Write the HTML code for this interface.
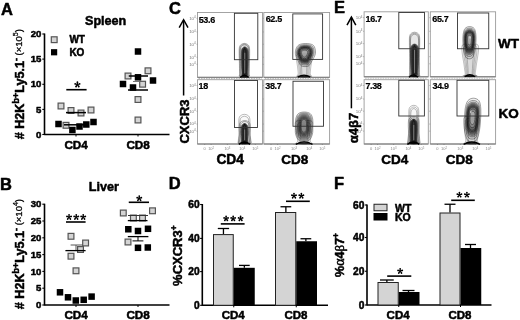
<!DOCTYPE html>
<html><head><meta charset="utf-8"><style>
html,body{margin:0;padding:0;background:#fff;width:520px;height:320px;overflow:hidden}
svg{display:block;font-family:"Liberation Sans", sans-serif;will-change:transform}
text[font-weight="bold"]{stroke:#000;stroke-width:0.5px;stroke-linejoin:round}
</style></head><body>
<svg width="520" height="320" viewBox="0 0 520 320" font-family='"Liberation Sans", sans-serif'>
<rect width="520" height="320" fill="#fff"/>
<text x="1.0" y="14.7" font-size="16.5" font-weight="bold" text-anchor="start" fill="#000" >A</text>
<text x="0.0" y="189.5" font-size="16.5" font-weight="bold" text-anchor="start" fill="#000" >B</text>
<text x="169.0" y="13.5" font-size="16.5" font-weight="bold" text-anchor="start" fill="#000" >C</text>
<text x="168.7" y="189.0" font-size="16.5" font-weight="bold" text-anchor="start" fill="#000" >D</text>
<text x="334.0" y="13.4" font-size="16.5" font-weight="bold" text-anchor="start" fill="#000" >E</text>
<text x="334.0" y="189.0" font-size="16.5" font-weight="bold" text-anchor="start" fill="#000" >F</text>
<line x1="44.5" y1="33.5" x2="44.5" y2="135.1" stroke="#000" stroke-width="1.6" />
<line x1="42.3" y1="34" x2="44.5" y2="34" stroke="#000" stroke-width="1.1" />
<text x="41.3" y="37.1" font-size="9.6" font-weight="bold" text-anchor="end" fill="#000" >20</text>
<line x1="42.3" y1="59.1" x2="44.5" y2="59.1" stroke="#000" stroke-width="1.1" />
<text x="41.3" y="62.2" font-size="9.6" font-weight="bold" text-anchor="end" fill="#000" >15</text>
<line x1="42.3" y1="84.3" x2="44.5" y2="84.3" stroke="#000" stroke-width="1.1" />
<text x="41.3" y="87.39999999999999" font-size="9.6" font-weight="bold" text-anchor="end" fill="#000" >10</text>
<line x1="42.3" y1="109.4" x2="44.5" y2="109.4" stroke="#000" stroke-width="1.1" />
<text x="41.3" y="112.5" font-size="9.6" font-weight="bold" text-anchor="end" fill="#000" >5</text>
<line x1="42.3" y1="134.5" x2="44.5" y2="134.5" stroke="#000" stroke-width="1.1" />
<text x="41.3" y="137.6" font-size="9.6" font-weight="bold" text-anchor="end" fill="#000" >0</text>
<line x1="44.5" y1="134.5" x2="169.5" y2="134.5" stroke="#000" stroke-width="1.6" />
<line x1="76" y1="134.5" x2="76" y2="136.5" stroke="#000" stroke-width="1" />
<line x1="138" y1="134.5" x2="138" y2="136.5" stroke="#000" stroke-width="1" />
<text x="76.1" y="149" font-size="11.7" font-weight="bold" text-anchor="middle" fill="#000" >CD4</text>
<text x="138.1" y="149" font-size="11.7" font-weight="bold" text-anchor="middle" fill="#000" >CD8</text>
<text x="85.0" y="25.0" font-size="12.6" font-weight="bold" text-anchor="start" fill="#000" >Spleen</text>
<line x1="44.5" y1="203.7" x2="44.5" y2="305.6" stroke="#000" stroke-width="1.6" />
<line x1="42.3" y1="204.2" x2="44.5" y2="204.2" stroke="#000" stroke-width="1.1" />
<text x="41.3" y="207.29999999999998" font-size="9.6" font-weight="bold" text-anchor="end" fill="#000" >30</text>
<line x1="42.3" y1="221" x2="44.5" y2="221" stroke="#000" stroke-width="1.1" />
<text x="41.3" y="224.1" font-size="9.6" font-weight="bold" text-anchor="end" fill="#000" >25</text>
<line x1="42.3" y1="237.8" x2="44.5" y2="237.8" stroke="#000" stroke-width="1.1" />
<text x="41.3" y="240.9" font-size="9.6" font-weight="bold" text-anchor="end" fill="#000" >20</text>
<line x1="42.3" y1="254.6" x2="44.5" y2="254.6" stroke="#000" stroke-width="1.1" />
<text x="41.3" y="257.7" font-size="9.6" font-weight="bold" text-anchor="end" fill="#000" >15</text>
<line x1="42.3" y1="271.4" x2="44.5" y2="271.4" stroke="#000" stroke-width="1.1" />
<text x="41.3" y="274.5" font-size="9.6" font-weight="bold" text-anchor="end" fill="#000" >10</text>
<line x1="42.3" y1="288.2" x2="44.5" y2="288.2" stroke="#000" stroke-width="1.1" />
<text x="41.3" y="291.3" font-size="9.6" font-weight="bold" text-anchor="end" fill="#000" >5</text>
<line x1="42.3" y1="305" x2="44.5" y2="305" stroke="#000" stroke-width="1.1" />
<text x="41.3" y="308.1" font-size="9.6" font-weight="bold" text-anchor="end" fill="#000" >0</text>
<line x1="44.5" y1="305" x2="169.5" y2="305" stroke="#000" stroke-width="1.6" />
<line x1="76" y1="305" x2="76" y2="307" stroke="#000" stroke-width="1" />
<line x1="138" y1="305" x2="138" y2="307" stroke="#000" stroke-width="1" />
<text x="76.1" y="319.3" font-size="11.7" font-weight="bold" text-anchor="middle" fill="#000" >CD4</text>
<text x="138.1" y="319.3" font-size="11.7" font-weight="bold" text-anchor="middle" fill="#000" >CD8</text>
<text x="88.8" y="190.7" font-size="12.6" font-weight="bold" text-anchor="start" fill="#000" >Liver</text>
<text transform="translate(23.8,84.2) rotate(-90)" x="0" y="0" font-size="12.6" font-weight="bold" text-anchor="middle"><tspan># H2K</tspan><tspan font-size="9" dy="-4.5">b+</tspan><tspan dy="4.5">Ly5.1</tspan><tspan font-size="9" dy="-4.5">-</tspan><tspan dy="2.5" font-weight="normal" font-size="9.5" stroke="#000" stroke-width="0.3"> (×10</tspan><tspan font-weight="normal" font-size="7" dy="-3.5" stroke="#000" stroke-width="0.25">5</tspan><tspan font-weight="normal" font-size="9.5" dy="3.5" stroke="#000" stroke-width="0.3">)</tspan></text>
<text transform="translate(23.8,254.1) rotate(-90)" x="0" y="0" font-size="12.6" font-weight="bold" text-anchor="middle"><tspan># H2K</tspan><tspan font-size="9" dy="-4.5">b+</tspan><tspan dy="4.5">Ly5.1</tspan><tspan font-size="9" dy="-4.5">-</tspan><tspan dy="2.5" font-weight="normal" font-size="9.5" stroke="#000" stroke-width="0.3"> (×10</tspan><tspan font-weight="normal" font-size="7" dy="-3.5" stroke="#000" stroke-width="0.25">4</tspan><tspan font-weight="normal" font-size="9.5" dy="3.5" stroke="#000" stroke-width="0.3">)</tspan></text>
<rect x="51.300000000000004" y="36.800000000000004" width="5.8" height="5.8" fill="#d4d4d4" stroke="#555" stroke-width="1.2" />
<rect x="51.0" y="49.15" width="6.2" height="6.2" fill="#000" stroke="none" stroke-width="1" />
<text x="69.4" y="43.2" font-size="10" font-weight="bold" text-anchor="start" fill="#000" >WT</text>
<text x="69.4" y="55.5" font-size="10" font-weight="bold" text-anchor="start" fill="#000" >KO</text>
<rect x="58.1" y="103.1" width="5.8" height="5.8" fill="#d4d4d4" stroke="#555" stroke-width="1.2" />
<rect x="68.1" y="107.6" width="5.8" height="5.8" fill="#d4d4d4" stroke="#555" stroke-width="1.2" />
<rect x="78.1" y="110.1" width="5.8" height="5.8" fill="#d4d4d4" stroke="#555" stroke-width="1.2" />
<rect x="88.1" y="107.1" width="5.8" height="5.8" fill="#d4d4d4" stroke="#555" stroke-width="1.2" />
<rect x="63.1" y="122.39999999999999" width="5.8" height="5.8" fill="#d4d4d4" stroke="#555" stroke-width="1.2" />
<line x1="66" y1="112.6" x2="86" y2="112.6" stroke="#000" stroke-width="1.5" />
<rect x="55.25" y="120.75" width="6.5" height="6.5" fill="#000" stroke="none" stroke-width="1" />
<rect x="69.15" y="126.75" width="6.5" height="6.5" fill="#000" stroke="none" stroke-width="1" />
<rect x="76.25" y="123.25" width="6.5" height="6.5" fill="#000" stroke="none" stroke-width="1" />
<rect x="83.05" y="121.25" width="6.5" height="6.5" fill="#000" stroke="none" stroke-width="1" />
<rect x="90.25" y="118.75" width="6.5" height="6.5" fill="#000" stroke="none" stroke-width="1" />
<line x1="64" y1="124.8" x2="84" y2="124.8" stroke="#000" stroke-width="1.5" />
<path d="M77.74,84.40L78.34,82.15A0.94,0.94 0 0 0 76.47,82.15L77.06,84.40ZM77.70,84.86L80.01,84.73A0.94,0.94 0 0 0 79.44,82.96L77.49,84.21ZM77.24,84.96L78.08,87.13A0.94,0.94 0 0 0 79.59,86.03L77.79,84.56ZM77.01,84.56L75.21,86.03A0.94,0.94 0 0 0 76.72,87.13L77.56,84.96ZM77.31,84.21L75.36,82.96A0.94,0.94 0 0 0 74.79,84.73L77.10,84.86Z" fill="#000"/>
<circle cx="77.40" cy="84.60" r="0.77" fill="#000"/>
<line x1="66.3" y1="89.7" x2="86.6" y2="89.7" stroke="#000" stroke-width="1.6" />
<rect x="145.1" y="67.89999999999999" width="5.8" height="5.8" fill="#d4d4d4" stroke="#555" stroke-width="1.2" />
<rect x="125.1" y="73.1" width="5.8" height="5.8" fill="#d4d4d4" stroke="#555" stroke-width="1.2" />
<rect x="139.7" y="81.3" width="5.8" height="5.8" fill="#d4d4d4" stroke="#555" stroke-width="1.2" />
<rect x="135.1" y="96.6" width="5.8" height="5.8" fill="#d4d4d4" stroke="#555" stroke-width="1.2" />
<rect x="135.1" y="117.1" width="5.8" height="5.8" fill="#d4d4d4" stroke="#555" stroke-width="1.2" />
<line x1="133" y1="81.5" x2="139.4" y2="81.5" stroke="#777" stroke-width="1" />
<rect x="134.75" y="48.25" width="6.5" height="6.5" fill="#000" stroke="none" stroke-width="1" />
<rect x="134.75" y="74.05" width="6.5" height="6.5" fill="#000" stroke="none" stroke-width="1" />
<rect x="149.75" y="77.25" width="6.5" height="6.5" fill="#000" stroke="none" stroke-width="1" />
<rect x="119.75" y="80.75" width="6.5" height="6.5" fill="#000" stroke="none" stroke-width="1" />
<rect x="129.75" y="84.25" width="6.5" height="6.5" fill="#000" stroke="none" stroke-width="1" />
<line x1="128.75" y1="76" x2="148" y2="76" stroke="#000" stroke-width="1.5" />
<line x1="128" y1="90" x2="148" y2="90" stroke="#000" stroke-width="1.5" />
<line x1="76" y1="245" x2="76" y2="250.6" stroke="#555" stroke-width="1" />
<line x1="70.6" y1="245" x2="82.8" y2="245" stroke="#555" stroke-width="1" />
<rect x="68.1" y="233.4" width="5.8" height="5.8" fill="#d4d4d4" stroke="#555" stroke-width="1.2" />
<rect x="82.69999999999999" y="240.1" width="5.8" height="5.8" fill="#d4d4d4" stroke="#555" stroke-width="1.2" />
<rect x="77.6" y="246.6" width="5.8" height="5.8" fill="#d4d4d4" stroke="#555" stroke-width="1.2" />
<rect x="68.1" y="253.29999999999998" width="5.8" height="5.8" fill="#d4d4d4" stroke="#555" stroke-width="1.2" />
<rect x="73.1" y="267.90000000000003" width="5.8" height="5.8" fill="#d4d4d4" stroke="#555" stroke-width="1.2" />
<line x1="65.4" y1="250.6" x2="85.6" y2="250.6" stroke="#000" stroke-width="1.3" />
<rect x="56.75" y="289.05" width="6.5" height="6.5" fill="#000" stroke="none" stroke-width="1" />
<rect x="64.75" y="294.05" width="6.5" height="6.5" fill="#000" stroke="none" stroke-width="1" />
<rect x="72.55" y="297.25" width="6.5" height="6.5" fill="#000" stroke="none" stroke-width="1" />
<rect x="80.45" y="296.55" width="6.5" height="6.5" fill="#000" stroke="none" stroke-width="1" />
<rect x="88.35" y="293.35" width="6.5" height="6.5" fill="#000" stroke="none" stroke-width="1" />
<path d="M69.37,216.90L69.93,214.82A0.88,0.88 0 0 0 68.17,214.82L68.73,216.90ZM69.34,217.34L71.49,217.23A0.88,0.88 0 0 0 70.95,215.56L69.14,216.73ZM68.91,217.45L69.68,219.47A0.88,0.88 0 0 0 71.10,218.43L69.43,217.07ZM68.67,217.07L67.00,218.43A0.88,0.88 0 0 0 68.42,219.47L69.19,217.45ZM68.96,216.73L67.15,215.56A0.88,0.88 0 0 0 66.61,217.23L68.76,217.34Z" fill="#000"/>
<circle cx="69.05" cy="217.10" r="0.72" fill="#000"/>
<path d="M76.57,216.90L77.13,214.82A0.88,0.88 0 0 0 75.37,214.82L75.93,216.90ZM76.54,217.34L78.69,217.23A0.88,0.88 0 0 0 78.15,215.56L76.34,216.73ZM76.11,217.45L76.88,219.47A0.88,0.88 0 0 0 78.30,218.43L76.63,217.07ZM75.87,217.07L74.20,218.43A0.88,0.88 0 0 0 75.62,219.47L76.39,217.45ZM76.16,216.73L74.35,215.56A0.88,0.88 0 0 0 73.81,217.23L75.96,217.34Z" fill="#000"/>
<circle cx="76.25" cy="217.10" r="0.72" fill="#000"/>
<path d="M83.52,216.90L84.08,214.82A0.88,0.88 0 0 0 82.32,214.82L82.88,216.90ZM83.49,217.34L85.64,217.23A0.88,0.88 0 0 0 85.10,215.56L83.29,216.73ZM83.06,217.45L83.83,219.47A0.88,0.88 0 0 0 85.25,218.43L83.58,217.07ZM82.82,217.07L81.15,218.43A0.88,0.88 0 0 0 82.57,219.47L83.34,217.45ZM83.11,216.73L81.30,215.56A0.88,0.88 0 0 0 80.76,217.23L82.91,217.34Z" fill="#000"/>
<circle cx="83.20" cy="217.10" r="0.72" fill="#000"/>
<line x1="66" y1="222" x2="85.6" y2="222" stroke="#000" stroke-width="1.6" />
<rect x="120.39999999999999" y="210.1" width="5.8" height="5.8" fill="#d4d4d4" stroke="#555" stroke-width="1.2" />
<rect x="149.6" y="207.9" width="5.8" height="5.8" fill="#d4d4d4" stroke="#555" stroke-width="1.2" />
<rect x="130.5" y="215.1" width="5.8" height="5.8" fill="#d4d4d4" stroke="#555" stroke-width="1.2" />
<rect x="139.6" y="215.1" width="5.8" height="5.8" fill="#d4d4d4" stroke="#555" stroke-width="1.2" />
<rect x="125.1" y="239.1" width="5.8" height="5.8" fill="#d4d4d4" stroke="#555" stroke-width="1.2" />
<line x1="128" y1="215.5" x2="148" y2="215.5" stroke="#333" stroke-width="1" />
<line x1="127.8" y1="220.6" x2="147.5" y2="220.6" stroke="#000" stroke-width="1.3" />
<line x1="138" y1="236.6" x2="138" y2="240.9" stroke="#000" stroke-width="1" />
<line x1="132.5" y1="240.9" x2="143.4" y2="240.9" stroke="#000" stroke-width="1" />
<rect x="125.05000000000001" y="226.0" width="6.5" height="6.5" fill="#000" stroke="none" stroke-width="1" />
<rect x="134.75" y="227.75" width="6.5" height="6.5" fill="#000" stroke="none" stroke-width="1" />
<rect x="144.75" y="225.55" width="6.5" height="6.5" fill="#000" stroke="none" stroke-width="1" />
<rect x="134.75" y="244.55" width="6.5" height="6.5" fill="#000" stroke="none" stroke-width="1" />
<rect x="144.55" y="244.25" width="6.5" height="6.5" fill="#000" stroke="none" stroke-width="1" />
<line x1="127.8" y1="236.6" x2="148.4" y2="236.6" stroke="#000" stroke-width="1.3" />
<path d="M139.57,198.20L140.13,196.12A0.88,0.88 0 0 0 138.37,196.12L138.93,198.20ZM139.54,198.64L141.69,198.53A0.88,0.88 0 0 0 141.15,196.86L139.34,198.03ZM139.11,198.75L139.88,200.77A0.88,0.88 0 0 0 141.30,199.73L139.63,198.37ZM138.87,198.37L137.20,199.73A0.88,0.88 0 0 0 138.62,200.77L139.39,198.75ZM139.16,198.03L137.35,196.86A0.88,0.88 0 0 0 136.81,198.53L138.96,198.64Z" fill="#000"/>
<circle cx="139.25" cy="198.40" r="0.72" fill="#000"/>
<line x1="128.75" y1="202.3" x2="149" y2="202.3" stroke="#000" stroke-width="1.6" />
<rect x="197.5" y="12.5" width="65.0" height="64.8" fill="none" stroke="#9a9a9a" stroke-width="0.9" />
<line x1="197.5" y1="77.3" x2="262.5" y2="77.3" stroke="#777" stroke-width="1.0" />
<text x="195.7" y="19.732" font-size="4.4" fill="#777" text-anchor="end">10<tspan dy="-1.3" font-size="3">4</tspan></text>
<line x1="196.5" y1="18.332" x2="197.5" y2="18.332" stroke="#888" stroke-width="0.6" />
<text x="195.7" y="33.339999999999996" font-size="4.4" fill="#777" text-anchor="end">10<tspan dy="-1.3" font-size="3">4</tspan></text>
<line x1="196.5" y1="31.939999999999998" x2="197.5" y2="31.939999999999998" stroke="#888" stroke-width="0.6" />
<text x="195.7" y="45.651999999999994" font-size="4.4" fill="#777" text-anchor="end">10<tspan dy="-1.3" font-size="3">4</tspan></text>
<line x1="196.5" y1="44.251999999999995" x2="197.5" y2="44.251999999999995" stroke="#888" stroke-width="0.6" />
<text x="195.7" y="58.611999999999995" font-size="4.4" fill="#777" text-anchor="end">10<tspan dy="-1.3" font-size="3">4</tspan></text>
<line x1="196.5" y1="57.211999999999996" x2="197.5" y2="57.211999999999996" stroke="#888" stroke-width="0.6" />
<text x="195.7" y="65.74000000000001" font-size="4.4" fill="#777" text-anchor="end">10<tspan dy="-1.3" font-size="3">4</tspan></text>
<line x1="196.5" y1="64.34" x2="197.5" y2="64.34" stroke="#888" stroke-width="0.6" />
<rect x="263.8" y="12.5" width="65.80000000000001" height="64.8" fill="none" stroke="#9a9a9a" stroke-width="0.9" />
<line x1="263.8" y1="77.3" x2="329.6" y2="77.3" stroke="#777" stroke-width="1.0" />
<line x1="262.8" y1="18.332" x2="263.8" y2="18.332" stroke="#888" stroke-width="0.6" />
<line x1="262.8" y1="31.939999999999998" x2="263.8" y2="31.939999999999998" stroke="#888" stroke-width="0.6" />
<line x1="262.8" y1="44.251999999999995" x2="263.8" y2="44.251999999999995" stroke="#888" stroke-width="0.6" />
<line x1="262.8" y1="57.211999999999996" x2="263.8" y2="57.211999999999996" stroke="#888" stroke-width="0.6" />
<line x1="262.8" y1="64.34" x2="263.8" y2="64.34" stroke="#888" stroke-width="0.6" />
<rect x="197.5" y="79.7" width="65.0" height="64.3" fill="none" stroke="#9a9a9a" stroke-width="0.9" />
<line x1="197.5" y1="144" x2="262.5" y2="144" stroke="#777" stroke-width="1.0" />
<text x="195.7" y="86.88700000000001" font-size="4.4" fill="#777" text-anchor="end">10<tspan dy="-1.3" font-size="3">4</tspan></text>
<line x1="196.5" y1="85.48700000000001" x2="197.5" y2="85.48700000000001" stroke="#888" stroke-width="0.6" />
<text x="195.7" y="100.39000000000001" font-size="4.4" fill="#777" text-anchor="end">10<tspan dy="-1.3" font-size="3">4</tspan></text>
<line x1="196.5" y1="98.99000000000001" x2="197.5" y2="98.99000000000001" stroke="#888" stroke-width="0.6" />
<text x="195.7" y="112.607" font-size="4.4" fill="#777" text-anchor="end">10<tspan dy="-1.3" font-size="3">4</tspan></text>
<line x1="196.5" y1="111.207" x2="197.5" y2="111.207" stroke="#888" stroke-width="0.6" />
<text x="195.7" y="125.46700000000001" font-size="4.4" fill="#777" text-anchor="end">10<tspan dy="-1.3" font-size="3">4</tspan></text>
<line x1="196.5" y1="124.06700000000001" x2="197.5" y2="124.06700000000001" stroke="#888" stroke-width="0.6" />
<text x="195.7" y="132.54" font-size="4.4" fill="#777" text-anchor="end">10<tspan dy="-1.3" font-size="3">4</tspan></text>
<line x1="196.5" y1="131.14" x2="197.5" y2="131.14" stroke="#888" stroke-width="0.6" />
<rect x="263.8" y="79.7" width="65.80000000000001" height="64.3" fill="none" stroke="#9a9a9a" stroke-width="0.9" />
<line x1="263.8" y1="144" x2="329.6" y2="144" stroke="#777" stroke-width="1.0" />
<line x1="262.8" y1="85.48700000000001" x2="263.8" y2="85.48700000000001" stroke="#888" stroke-width="0.6" />
<line x1="262.8" y1="98.99000000000001" x2="263.8" y2="98.99000000000001" stroke="#888" stroke-width="0.6" />
<line x1="262.8" y1="111.207" x2="263.8" y2="111.207" stroke="#888" stroke-width="0.6" />
<line x1="262.8" y1="124.06700000000001" x2="263.8" y2="124.06700000000001" stroke="#888" stroke-width="0.6" />
<line x1="262.8" y1="131.14" x2="263.8" y2="131.14" stroke="#888" stroke-width="0.6" />
<rect x="364.1" y="11.8" width="64.19999999999999" height="65.0" fill="none" stroke="#9a9a9a" stroke-width="0.9" />
<line x1="364.1" y1="76.8" x2="428.3" y2="76.8" stroke="#777" stroke-width="1.0" />
<text x="362.3" y="19.049999999999997" font-size="4.4" fill="#777" text-anchor="end">10<tspan dy="-1.3" font-size="3">4</tspan></text>
<line x1="363.1" y1="17.65" x2="364.1" y2="17.65" stroke="#888" stroke-width="0.6" />
<text x="362.3" y="32.7" font-size="4.4" fill="#777" text-anchor="end">10<tspan dy="-1.3" font-size="3">4</tspan></text>
<line x1="363.1" y1="31.3" x2="364.1" y2="31.3" stroke="#888" stroke-width="0.6" />
<text x="362.3" y="45.05" font-size="4.4" fill="#777" text-anchor="end">10<tspan dy="-1.3" font-size="3">4</tspan></text>
<line x1="363.1" y1="43.65" x2="364.1" y2="43.65" stroke="#888" stroke-width="0.6" />
<text x="362.3" y="58.04999999999999" font-size="4.4" fill="#777" text-anchor="end">10<tspan dy="-1.3" font-size="3">4</tspan></text>
<line x1="363.1" y1="56.64999999999999" x2="364.1" y2="56.64999999999999" stroke="#888" stroke-width="0.6" />
<text x="362.3" y="65.2" font-size="4.4" fill="#777" text-anchor="end">10<tspan dy="-1.3" font-size="3">4</tspan></text>
<line x1="363.1" y1="63.8" x2="364.1" y2="63.8" stroke="#888" stroke-width="0.6" />
<rect x="430.3" y="11.8" width="65.30000000000001" height="65.0" fill="none" stroke="#9a9a9a" stroke-width="0.9" />
<line x1="430.3" y1="76.8" x2="495.6" y2="76.8" stroke="#777" stroke-width="1.0" />
<line x1="429.3" y1="17.65" x2="430.3" y2="17.65" stroke="#888" stroke-width="0.6" />
<line x1="429.3" y1="31.3" x2="430.3" y2="31.3" stroke="#888" stroke-width="0.6" />
<line x1="429.3" y1="43.65" x2="430.3" y2="43.65" stroke="#888" stroke-width="0.6" />
<line x1="429.3" y1="56.64999999999999" x2="430.3" y2="56.64999999999999" stroke="#888" stroke-width="0.6" />
<line x1="429.3" y1="63.8" x2="430.3" y2="63.8" stroke="#888" stroke-width="0.6" />
<rect x="364.1" y="79.7" width="64.19999999999999" height="64.3" fill="none" stroke="#9a9a9a" stroke-width="0.9" />
<line x1="364.1" y1="144" x2="428.3" y2="144" stroke="#777" stroke-width="1.0" />
<text x="362.3" y="86.88700000000001" font-size="4.4" fill="#777" text-anchor="end">10<tspan dy="-1.3" font-size="3">4</tspan></text>
<line x1="363.1" y1="85.48700000000001" x2="364.1" y2="85.48700000000001" stroke="#888" stroke-width="0.6" />
<text x="362.3" y="100.39000000000001" font-size="4.4" fill="#777" text-anchor="end">10<tspan dy="-1.3" font-size="3">4</tspan></text>
<line x1="363.1" y1="98.99000000000001" x2="364.1" y2="98.99000000000001" stroke="#888" stroke-width="0.6" />
<text x="362.3" y="112.607" font-size="4.4" fill="#777" text-anchor="end">10<tspan dy="-1.3" font-size="3">4</tspan></text>
<line x1="363.1" y1="111.207" x2="364.1" y2="111.207" stroke="#888" stroke-width="0.6" />
<text x="362.3" y="125.46700000000001" font-size="4.4" fill="#777" text-anchor="end">10<tspan dy="-1.3" font-size="3">4</tspan></text>
<line x1="363.1" y1="124.06700000000001" x2="364.1" y2="124.06700000000001" stroke="#888" stroke-width="0.6" />
<text x="362.3" y="132.54" font-size="4.4" fill="#777" text-anchor="end">10<tspan dy="-1.3" font-size="3">4</tspan></text>
<line x1="363.1" y1="131.14" x2="364.1" y2="131.14" stroke="#888" stroke-width="0.6" />
<rect x="430.3" y="79.7" width="65.30000000000001" height="64.3" fill="none" stroke="#9a9a9a" stroke-width="0.9" />
<line x1="430.3" y1="144" x2="495.6" y2="144" stroke="#777" stroke-width="1.0" />
<line x1="429.3" y1="85.48700000000001" x2="430.3" y2="85.48700000000001" stroke="#888" stroke-width="0.6" />
<line x1="429.3" y1="98.99000000000001" x2="430.3" y2="98.99000000000001" stroke="#888" stroke-width="0.6" />
<line x1="429.3" y1="111.207" x2="430.3" y2="111.207" stroke="#888" stroke-width="0.6" />
<line x1="429.3" y1="124.06700000000001" x2="430.3" y2="124.06700000000001" stroke="#888" stroke-width="0.6" />
<line x1="429.3" y1="131.14" x2="430.3" y2="131.14" stroke="#888" stroke-width="0.6" />
<line x1="198.5" y1="78.6" x2="261.5" y2="78.6" stroke="#b0b0b0" stroke-width="0.9" stroke-dasharray="1.6,0.9"/>
<line x1="264.8" y1="78.6" x2="328.6" y2="78.6" stroke="#b0b0b0" stroke-width="0.9" stroke-dasharray="1.6,0.9"/>
<line x1="365.1" y1="78.1" x2="427.3" y2="78.1" stroke="#b0b0b0" stroke-width="0.9" stroke-dasharray="1.6,0.9"/>
<line x1="431.3" y1="78.1" x2="494.6" y2="78.1" stroke="#b0b0b0" stroke-width="0.9" stroke-dasharray="1.6,0.9"/>
<text x="204.65" y="150.2" font-size="4" fill="#8a8a8a" text-anchor="middle">0</text>
<line x1="204.65" y1="144" x2="204.65" y2="145" stroke="#777" stroke-width="0.7" />
<text x="211.15" y="150.2" font-size="4" fill="#8a8a8a" text-anchor="middle">10<tspan dy="-1.3" font-size="2.8">2</tspan></text>
<line x1="211.15" y1="144" x2="211.15" y2="145" stroke="#777" stroke-width="0.7" />
<text x="227.4" y="150.2" font-size="4" fill="#8a8a8a" text-anchor="middle">10<tspan dy="-1.3" font-size="2.8">3</tspan></text>
<line x1="227.4" y1="144" x2="227.4" y2="145" stroke="#777" stroke-width="0.7" />
<text x="242.35" y="150.2" font-size="4" fill="#8a8a8a" text-anchor="middle">10<tspan dy="-1.3" font-size="2.8">4</tspan></text>
<line x1="242.35" y1="144" x2="242.35" y2="145" stroke="#777" stroke-width="0.7" />
<text x="255.35" y="150.2" font-size="4" fill="#8a8a8a" text-anchor="middle">10<tspan dy="-1.3" font-size="2.8">5</tspan></text>
<line x1="255.35" y1="144" x2="255.35" y2="145" stroke="#777" stroke-width="0.7" />
<text x="271.038" y="150.2" font-size="4" fill="#8a8a8a" text-anchor="middle">0</text>
<line x1="271.038" y1="144" x2="271.038" y2="145" stroke="#777" stroke-width="0.7" />
<text x="277.618" y="150.2" font-size="4" fill="#8a8a8a" text-anchor="middle">10<tspan dy="-1.3" font-size="2.8">2</tspan></text>
<line x1="277.618" y1="144" x2="277.618" y2="145" stroke="#777" stroke-width="0.7" />
<text x="294.06800000000004" y="150.2" font-size="4" fill="#8a8a8a" text-anchor="middle">10<tspan dy="-1.3" font-size="2.8">3</tspan></text>
<line x1="294.06800000000004" y1="144" x2="294.06800000000004" y2="145" stroke="#777" stroke-width="0.7" />
<text x="309.202" y="150.2" font-size="4" fill="#8a8a8a" text-anchor="middle">10<tspan dy="-1.3" font-size="2.8">4</tspan></text>
<line x1="309.202" y1="144" x2="309.202" y2="145" stroke="#777" stroke-width="0.7" />
<text x="322.362" y="150.2" font-size="4" fill="#8a8a8a" text-anchor="middle">10<tspan dy="-1.3" font-size="2.8">5</tspan></text>
<line x1="322.362" y1="144" x2="322.362" y2="145" stroke="#777" stroke-width="0.7" />
<text x="371.16200000000003" y="150.2" font-size="4" fill="#8a8a8a" text-anchor="middle">0</text>
<line x1="371.16200000000003" y1="144" x2="371.16200000000003" y2="145" stroke="#777" stroke-width="0.7" />
<text x="377.582" y="150.2" font-size="4" fill="#8a8a8a" text-anchor="middle">10<tspan dy="-1.3" font-size="2.8">2</tspan></text>
<line x1="377.582" y1="144" x2="377.582" y2="145" stroke="#777" stroke-width="0.7" />
<text x="393.632" y="150.2" font-size="4" fill="#8a8a8a" text-anchor="middle">10<tspan dy="-1.3" font-size="2.8">3</tspan></text>
<line x1="393.632" y1="144" x2="393.632" y2="145" stroke="#777" stroke-width="0.7" />
<text x="408.398" y="150.2" font-size="4" fill="#8a8a8a" text-anchor="middle">10<tspan dy="-1.3" font-size="2.8">4</tspan></text>
<line x1="408.398" y1="144" x2="408.398" y2="145" stroke="#777" stroke-width="0.7" />
<text x="421.238" y="150.2" font-size="4" fill="#8a8a8a" text-anchor="middle">10<tspan dy="-1.3" font-size="2.8">5</tspan></text>
<line x1="421.238" y1="144" x2="421.238" y2="145" stroke="#777" stroke-width="0.7" />
<text x="437.483" y="150.2" font-size="4" fill="#8a8a8a" text-anchor="middle">0</text>
<line x1="437.483" y1="144" x2="437.483" y2="145" stroke="#777" stroke-width="0.7" />
<text x="444.01300000000003" y="150.2" font-size="4" fill="#8a8a8a" text-anchor="middle">10<tspan dy="-1.3" font-size="2.8">2</tspan></text>
<line x1="444.01300000000003" y1="144" x2="444.01300000000003" y2="145" stroke="#777" stroke-width="0.7" />
<text x="460.338" y="150.2" font-size="4" fill="#8a8a8a" text-anchor="middle">10<tspan dy="-1.3" font-size="2.8">3</tspan></text>
<line x1="460.338" y1="144" x2="460.338" y2="145" stroke="#777" stroke-width="0.7" />
<text x="475.357" y="150.2" font-size="4" fill="#8a8a8a" text-anchor="middle">10<tspan dy="-1.3" font-size="2.8">4</tspan></text>
<line x1="475.357" y1="144" x2="475.357" y2="145" stroke="#777" stroke-width="0.7" />
<text x="488.41700000000003" y="150.2" font-size="4" fill="#8a8a8a" text-anchor="middle">10<tspan dy="-1.3" font-size="2.8">5</tspan></text>
<line x1="488.41700000000003" y1="144" x2="488.41700000000003" y2="145" stroke="#777" stroke-width="0.7" />
<path d="M244.40,43.40C245.54,43.40 246.98,43.93 247.81,44.60C248.64,45.27 249.08,45.93 249.39,47.40C249.69,48.87 249.65,50.75 249.65,53.40C249.65,56.05 249.46,60.00 249.39,63.30C249.31,66.60 249.31,70.97 249.20,73.20C249.09,75.43 250.24,76.12 248.72,76.70C247.20,77.28 241.60,77.28 240.08,76.70C238.56,76.12 239.71,75.43 239.60,73.20C239.49,70.97 239.49,66.60 239.41,63.30C239.34,60.00 239.15,56.05 239.15,53.40C239.15,50.75 239.11,48.87 239.41,47.40C239.72,45.93 240.16,45.27 240.99,44.60C241.82,43.93 243.26,43.40 244.40,43.40Z" fill="#000" fill-opacity="0.01" stroke="#000" stroke-width="0.45" stroke-opacity="0.7"/><path d="M244.40,44.14C245.41,44.14 246.70,44.66 247.44,45.31C248.18,45.96 248.57,46.62 248.84,48.05C249.11,49.48 249.07,51.31 249.07,53.89C249.07,56.48 248.91,60.33 248.84,63.55C248.77,66.77 248.77,71.02 248.67,73.20C248.57,75.38 249.60,76.04 248.24,76.61C246.89,77.18 241.91,77.18 240.56,76.61C239.20,76.04 240.23,75.38 240.13,73.20C240.03,71.02 240.03,66.77 239.96,63.55C239.89,60.33 239.73,56.48 239.73,53.89C239.73,51.31 239.69,49.48 239.96,48.05C240.23,46.62 240.62,45.96 241.36,45.31C242.10,44.66 243.39,44.14 244.40,44.14Z" fill="#000" fill-opacity="0.03" stroke="#000" stroke-width="0.45" stroke-opacity="0.7"/><path d="M244.40,44.89C245.29,44.89 246.41,45.40 247.06,46.03C247.71,46.66 248.05,47.30 248.29,48.69C248.53,50.08 248.50,51.87 248.50,54.39C248.50,56.91 248.35,60.66 248.29,63.80C248.23,66.93 248.23,71.08 248.14,73.20C248.06,75.32 248.96,75.97 247.77,76.53C246.58,77.08 242.22,77.08 241.03,76.53C239.84,75.97 240.74,75.32 240.66,73.20C240.57,71.08 240.57,66.93 240.51,63.80C240.45,60.66 240.31,56.91 240.31,54.39C240.31,51.87 240.27,50.08 240.51,48.69C240.75,47.30 241.09,46.66 241.74,46.03C242.39,45.40 243.51,44.89 244.40,44.89Z" fill="#000" fill-opacity="0.05" stroke="#000" stroke-width="0.45" stroke-opacity="0.7"/>
<path d="M244.70,46.80C245.46,46.80 246.42,47.33 246.97,48.00C247.53,48.67 247.82,49.33 248.02,50.80C248.23,52.27 248.20,54.46 248.20,56.80C248.20,59.14 248.13,62.17 248.02,64.85C247.92,67.53 247.71,70.98 247.59,72.90C247.47,74.83 248.22,75.82 247.30,76.40C246.39,76.98 243.01,76.98 242.10,76.40C241.18,75.82 241.93,74.83 241.81,72.90C241.69,70.98 241.48,67.53 241.38,64.85C241.27,62.17 241.20,59.14 241.20,56.80C241.20,54.46 241.17,52.27 241.38,50.80C241.58,49.33 241.87,48.67 242.42,48.00C242.98,47.33 243.94,46.80 244.70,46.80Z" fill="#000" fill-opacity="0.22" stroke="#000" stroke-width="0.4" stroke-opacity="0.85"/><path d="M244.70,47.18C245.36,47.18 246.21,47.70 246.69,48.35C247.18,49.00 247.43,49.65 247.61,51.08C247.79,52.51 247.76,54.65 247.76,56.93C247.76,59.21 247.70,62.16 247.61,64.78C247.52,67.39 247.33,70.75 247.23,72.63C247.12,74.50 247.78,75.47 246.98,76.04C246.18,76.61 243.22,76.61 242.42,76.04C241.62,75.47 242.28,74.50 242.17,72.63C242.07,70.75 241.88,67.39 241.79,64.78C241.70,62.16 241.64,59.21 241.64,56.93C241.64,54.65 241.61,52.51 241.79,51.08C241.97,49.65 242.22,49.00 242.71,48.35C243.19,47.70 244.04,47.18 244.70,47.18Z" fill="#000" fill-opacity="0.22" stroke="#000" stroke-width="0.4" stroke-opacity="0.85"/><path d="M244.70,47.56C245.27,47.56 245.99,48.07 246.41,48.70C246.82,49.33 247.04,49.97 247.19,51.36C247.35,52.75 247.32,54.84 247.32,57.06C247.32,59.28 247.27,62.16 247.19,64.71C247.12,67.26 246.96,70.53 246.87,72.36C246.78,74.18 247.34,75.13 246.65,75.68C245.96,76.23 243.44,76.23 242.75,75.68C242.06,75.13 242.62,74.18 242.53,72.36C242.44,70.53 242.28,67.26 242.21,64.71C242.13,62.16 242.07,59.28 242.07,57.06C242.07,54.84 242.05,52.75 242.21,51.36C242.36,49.97 242.58,49.33 242.99,48.70C243.41,48.07 244.13,47.56 244.70,47.56Z" fill="#000" fill-opacity="0.2" stroke="#000" stroke-width="0.4" stroke-opacity="0.85"/><path d="M244.70,47.94C245.17,47.94 245.78,48.43 246.12,49.05C246.47,49.67 246.65,50.28 246.78,51.64C246.91,53.00 246.89,55.02 246.89,57.19C246.89,59.36 246.84,62.15 246.78,64.64C246.71,67.12 246.58,70.30 246.51,72.08C246.43,73.86 246.90,74.78 246.33,75.32C245.75,75.86 243.65,75.86 243.07,75.32C242.50,74.78 242.97,73.86 242.89,72.08C242.82,70.30 242.69,67.12 242.62,64.64C242.56,62.15 242.51,59.36 242.51,57.19C242.51,55.02 242.49,53.00 242.62,51.64C242.75,50.28 242.93,49.67 243.28,49.05C243.62,48.43 244.23,47.94 244.70,47.94Z" fill="#000" fill-opacity="0.18" stroke="#000" stroke-width="0.4" stroke-opacity="0.85"/><path d="M244.70,48.32C245.08,48.32 245.56,48.80 245.84,49.40C246.11,50.00 246.26,50.60 246.36,51.92C246.46,53.24 246.45,55.21 246.45,57.32C246.45,59.43 246.41,62.15 246.36,64.56C246.31,66.98 246.21,70.08 246.14,71.81C246.08,73.54 246.46,74.44 246.00,74.96C245.54,75.49 243.86,75.49 243.40,74.96C242.94,74.44 243.32,73.54 243.25,71.81C243.19,70.08 243.09,66.98 243.04,64.56C242.99,62.15 242.95,59.43 242.95,57.32C242.95,55.21 242.94,53.24 243.04,51.92C243.14,50.60 243.29,50.00 243.56,49.40C243.84,48.80 244.32,48.32 244.70,48.32Z" fill="#000" fill-opacity="0.15" stroke="#000" stroke-width="0.4" stroke-opacity="0.85"/><path d="M244.70,48.70C244.98,48.70 245.35,49.17 245.55,49.75C245.76,50.33 245.87,50.92 245.95,52.20C246.02,53.48 246.01,55.40 246.01,57.45C246.01,59.50 245.98,62.15 245.95,64.49C245.91,66.84 245.83,69.85 245.78,71.54C245.74,73.22 246.02,74.09 245.68,74.60C245.33,75.11 244.07,75.11 243.72,74.60C243.38,74.09 243.66,73.22 243.62,71.54C243.57,69.85 243.49,66.84 243.45,64.49C243.41,62.15 243.39,59.50 243.39,57.45C243.39,55.40 243.38,53.48 243.45,52.20C243.53,50.92 243.64,50.33 243.85,49.75C244.05,49.17 244.42,48.70 244.70,48.70Z" fill="#000" fill-opacity="0.12" stroke="#000" stroke-width="0.4" stroke-opacity="0.85"/><path d="M244.70,49.08C244.89,49.08 245.13,49.53 245.27,50.10C245.41,50.67 245.48,51.23 245.53,52.48C245.58,53.73 245.57,55.59 245.57,57.58C245.57,59.57 245.56,62.14 245.53,64.42C245.51,66.70 245.45,69.63 245.42,71.27C245.39,72.90 245.58,73.74 245.35,74.24C245.12,74.74 244.28,74.74 244.05,74.24C243.82,73.74 244.01,72.90 243.98,71.27C243.95,69.63 243.89,66.70 243.87,64.42C243.84,62.14 243.82,59.57 243.82,57.58C243.82,55.59 243.82,53.73 243.87,52.48C243.92,51.23 243.99,50.67 244.13,50.10C244.27,49.53 244.51,49.08 244.70,49.08Z" fill="#000" fill-opacity="0.1" stroke="#000" stroke-width="0.4" stroke-opacity="0.85"/>
<line x1="244.79999999999998" y1="52.8" x2="244.79999999999998" y2="73.2" stroke="#fff" stroke-width="0.9" stroke-opacity="0.4"/>
<path d="M240.20,77.45 Q244.40,72.80 248.60,77.45 Z" fill="#000" fill-opacity="0.55"/>
<path d="M240.20,77.45 Q244.40,72.80 248.60,77.45" fill="none" stroke="#000" stroke-width="1.4"/>
<path d="M244.40,114.30C245.61,114.30 247.15,114.83 248.04,115.50C248.93,116.17 249.39,116.83 249.72,118.30C250.05,119.77 250.00,121.99 250.00,124.30C250.00,126.61 249.65,129.53 249.72,132.15C249.79,134.77 250.39,138.11 250.40,140.00C250.41,141.89 251.70,142.92 249.80,143.50C247.90,144.08 240.90,144.08 239.00,143.50C237.10,142.92 238.39,141.89 238.40,140.00C238.41,138.11 239.01,134.77 239.08,132.15C239.15,129.53 238.80,126.61 238.80,124.30C238.80,121.99 238.75,119.77 239.08,118.30C239.41,116.83 239.87,116.17 240.76,115.50C241.65,114.83 243.19,114.30 244.40,114.30Z" fill="#000" fill-opacity="0.0" stroke="#000" stroke-width="0.45" stroke-opacity="0.6"/><path d="M244.40,116.20C245.37,116.20 246.60,116.69 247.31,117.30C248.02,117.91 248.39,118.53 248.66,119.88C248.92,121.23 248.88,123.27 248.88,125.40C248.88,127.52 248.60,130.21 248.66,132.62C248.71,135.03 249.19,138.10 249.20,139.84C249.21,141.58 250.24,142.52 248.72,143.06C247.20,143.60 241.60,143.60 240.08,143.06C238.56,142.52 239.59,141.58 239.60,139.84C239.61,138.10 240.09,135.03 240.14,132.62C240.20,130.21 239.92,127.52 239.92,125.40C239.92,123.27 239.88,121.23 240.14,119.88C240.41,118.53 240.78,117.91 241.49,117.30C242.20,116.69 243.43,116.20 244.40,116.20Z" fill="#000" fill-opacity="0.02" stroke="#000" stroke-width="0.45" stroke-opacity="0.6"/>
<path d="M244.80,120.50C246.01,120.50 247.55,121.03 248.44,121.70C249.33,122.37 249.79,123.03 250.12,124.50C250.45,125.97 250.40,128.71 250.40,130.50C250.40,132.29 250.05,133.67 250.12,135.25C250.19,136.83 250.79,138.62 250.80,140.00C250.81,141.38 252.10,142.92 250.20,143.50C248.30,144.08 241.30,144.08 239.40,143.50C237.50,142.92 238.79,141.38 238.80,140.00C238.81,138.62 239.41,136.83 239.48,135.25C239.55,133.67 239.20,132.29 239.20,130.50C239.20,128.71 239.15,125.97 239.48,124.50C239.81,123.03 240.27,122.37 241.16,121.70C242.05,121.03 243.59,120.50 244.80,120.50Z" fill="#000" fill-opacity="0.01" stroke="#000" stroke-width="0.45" stroke-opacity="0.7"/><path d="M244.80,121.47C245.75,121.47 246.95,121.98 247.64,122.62C248.33,123.25 248.69,123.88 248.95,125.28C249.20,126.67 249.17,129.27 249.17,130.97C249.17,132.68 248.90,133.98 248.95,135.49C249.00,136.99 249.47,138.69 249.48,140.00C249.49,141.31 250.49,142.77 249.01,143.32C247.53,143.88 242.07,143.88 240.59,143.32C239.11,142.77 240.11,141.31 240.12,140.00C240.13,138.69 240.60,136.99 240.65,135.49C240.70,133.98 240.43,132.68 240.43,130.97C240.43,129.27 240.40,126.67 240.65,125.28C240.91,123.88 241.27,123.25 241.96,122.62C242.65,121.98 243.85,121.47 244.80,121.47Z" fill="#000" fill-opacity="0.03" stroke="#000" stroke-width="0.45" stroke-opacity="0.7"/>
<path d="M244.60,123.50C245.38,123.50 246.37,124.03 246.94,124.70C247.51,125.37 247.81,126.03 248.02,127.50C248.23,128.97 248.20,131.98 248.20,133.50C248.20,135.02 248.05,135.57 248.02,136.60C247.99,137.63 248.06,138.60 248.00,139.70C247.94,140.80 248.74,142.62 247.66,143.20C246.58,143.78 242.62,143.78 241.54,143.20C240.46,142.62 241.26,140.80 241.20,139.70C241.14,138.60 241.21,137.63 241.18,136.60C241.15,135.57 241.00,135.02 241.00,133.50C241.00,131.98 240.97,128.97 241.18,127.50C241.39,126.03 241.69,125.37 242.26,124.70C242.83,124.03 243.82,123.50 244.60,123.50Z" fill="#000" fill-opacity="0.22" stroke="#000" stroke-width="0.4" stroke-opacity="0.85"/><path d="M244.60,123.76C245.28,123.76 246.15,124.28 246.65,124.93C247.15,125.58 247.41,126.23 247.59,127.66C247.78,129.09 247.75,132.03 247.75,133.51C247.75,134.98 247.62,135.52 247.59,136.53C247.56,137.54 247.63,138.48 247.57,139.55C247.52,140.62 248.22,142.39 247.28,142.96C246.34,143.53 242.86,143.53 241.92,142.96C240.98,142.39 241.68,140.62 241.62,139.55C241.57,138.48 241.64,137.54 241.61,136.53C241.58,135.52 241.45,134.98 241.45,133.51C241.45,132.03 241.42,129.09 241.61,127.66C241.79,126.23 242.05,125.58 242.55,124.93C243.05,124.28 243.92,123.76 244.60,123.76Z" fill="#000" fill-opacity="0.22" stroke="#000" stroke-width="0.4" stroke-opacity="0.85"/><path d="M244.60,124.01C245.19,124.01 245.93,124.52 246.35,125.15C246.78,125.79 247.01,126.42 247.16,127.81C247.32,129.21 247.30,132.07 247.30,133.51C247.30,134.95 247.19,135.48 247.16,136.46C247.14,137.44 247.19,138.36 247.15,139.40C247.11,140.45 247.70,142.17 246.89,142.73C246.09,143.28 243.11,143.28 242.31,142.73C241.50,142.17 242.09,140.45 242.05,139.40C242.00,138.36 242.06,137.44 242.03,136.46C242.01,135.48 241.90,134.95 241.90,133.51C241.90,132.07 241.88,129.21 242.03,127.81C242.19,126.42 242.42,125.79 242.84,125.15C243.27,124.52 244.01,124.01 244.60,124.01Z" fill="#000" fill-opacity="0.2" stroke="#000" stroke-width="0.4" stroke-opacity="0.85"/><path d="M244.60,124.27C245.09,124.27 245.71,124.76 246.06,125.38C246.42,126.00 246.61,126.61 246.74,127.97C246.87,129.33 246.85,132.12 246.85,133.52C246.85,134.92 246.76,135.43 246.74,136.39C246.72,137.34 246.76,138.24 246.72,139.25C246.69,140.27 247.19,141.95 246.51,142.49C245.84,143.03 243.36,143.03 242.69,142.49C242.01,141.95 242.51,140.27 242.47,139.25C242.44,138.24 242.48,137.34 242.46,136.39C242.44,135.43 242.35,134.92 242.35,133.52C242.35,132.12 242.33,129.33 242.46,127.97C242.59,126.61 242.78,126.00 243.14,125.38C243.49,124.76 244.11,124.27 244.60,124.27Z" fill="#000" fill-opacity="0.18" stroke="#000" stroke-width="0.4" stroke-opacity="0.85"/><path d="M244.60,124.53C244.99,124.53 245.48,125.01 245.77,125.61C246.05,126.20 246.21,126.81 246.31,128.12C246.41,129.44 246.40,132.16 246.40,133.53C246.40,134.89 246.33,135.38 246.31,136.31C246.29,137.25 246.33,138.11 246.30,139.10C246.27,140.09 246.67,141.73 246.13,142.25C245.59,142.78 243.61,142.78 243.07,142.25C242.53,141.73 242.93,140.09 242.90,139.10C242.87,138.11 242.91,137.25 242.89,136.31C242.87,135.38 242.80,134.89 242.80,133.53C242.80,132.16 242.78,129.44 242.89,128.12C242.99,126.81 243.15,126.20 243.43,125.61C243.72,125.01 244.21,124.53 244.60,124.53Z" fill="#000" fill-opacity="0.15" stroke="#000" stroke-width="0.4" stroke-opacity="0.85"/><path d="M244.60,124.78C244.89,124.78 245.26,125.25 245.48,125.83C245.69,126.41 245.80,127.00 245.88,128.28C245.96,129.56 245.95,132.20 245.95,133.53C245.95,134.86 245.89,135.34 245.88,136.24C245.87,137.15 245.90,137.99 245.88,138.96C245.85,139.92 246.15,141.51 245.75,142.02C245.34,142.53 243.86,142.53 243.45,142.02C243.05,141.51 243.35,139.92 243.32,138.96C243.30,137.99 243.33,137.15 243.32,136.24C243.31,135.34 243.25,134.86 243.25,133.53C243.25,132.20 243.24,129.56 243.32,128.28C243.40,127.00 243.51,126.41 243.72,125.83C243.94,125.25 244.31,124.78 244.60,124.78Z" fill="#000" fill-opacity="0.12" stroke="#000" stroke-width="0.4" stroke-opacity="0.85"/><path d="M244.60,125.04C244.79,125.04 245.04,125.49 245.19,126.06C245.33,126.62 245.40,127.19 245.45,128.44C245.51,129.68 245.50,132.25 245.50,133.54C245.50,134.83 245.46,135.29 245.45,136.17C245.45,137.05 245.46,137.87 245.45,138.81C245.44,139.74 245.63,141.29 245.37,141.78C245.10,142.28 244.10,142.28 243.83,141.78C243.57,141.29 243.76,139.74 243.75,138.81C243.74,137.87 243.75,137.05 243.75,136.17C243.74,135.29 243.70,134.83 243.70,133.54C243.70,132.25 243.69,129.68 243.75,128.44C243.80,127.19 243.87,126.62 244.01,126.06C244.16,125.49 244.41,125.04 244.60,125.04Z" fill="#000" fill-opacity="0.1" stroke="#000" stroke-width="0.4" stroke-opacity="0.85"/>
<line x1="244.7" y1="129.5" x2="244.7" y2="140" stroke="#fff" stroke-width="0.9" stroke-opacity="0.4"/>
<path d="M238.80,144.35 Q244.40,139.70 250.00,144.35 Z" fill="#000" fill-opacity="0.55"/>
<path d="M238.80,144.35 Q244.40,139.70 250.00,144.35" fill="none" stroke="#000" stroke-width="1.4"/>
<path d="M414.55,32.20C415.67,32.20 417.08,32.73 417.90,33.40C418.71,34.07 419.14,34.73 419.44,36.20C419.74,37.67 419.70,38.65 419.70,42.20C419.70,45.75 419.48,52.40 419.44,57.50C419.40,62.60 419.53,69.67 419.45,72.80C419.37,75.93 420.51,75.72 418.96,76.30C417.41,76.88 411.69,76.88 410.14,76.30C408.59,75.72 409.73,75.93 409.65,72.80C409.57,69.67 409.70,62.60 409.66,57.50C409.62,52.40 409.40,45.75 409.40,42.20C409.40,38.65 409.36,37.67 409.66,36.20C409.96,34.73 410.39,34.07 411.20,33.40C412.02,32.73 413.43,32.20 414.55,32.20Z" fill="#000" fill-opacity="0.01" stroke="#000" stroke-width="0.45" stroke-opacity="0.7"/><path d="M414.55,33.22C415.54,33.22 416.80,33.74 417.53,34.39C418.25,35.04 418.64,35.69 418.90,37.12C419.17,38.55 419.13,39.50 419.13,42.97C419.13,46.43 418.94,52.91 418.90,57.88C418.87,62.85 418.98,69.75 418.91,72.80C418.84,75.85 419.86,75.64 418.47,76.21C417.09,76.78 412.01,76.78 410.63,76.21C409.24,75.64 410.26,75.85 410.19,72.80C410.12,69.75 410.23,62.85 410.20,57.88C410.16,52.91 409.97,46.43 409.97,42.97C409.97,39.50 409.93,38.55 410.20,37.12C410.46,35.69 410.85,35.04 411.57,34.39C412.30,33.74 413.56,33.22 414.55,33.22Z" fill="#000" fill-opacity="0.03" stroke="#000" stroke-width="0.45" stroke-opacity="0.7"/><path d="M414.55,34.23C415.42,34.23 416.53,34.74 417.16,35.37C417.80,36.00 418.13,36.64 418.37,38.03C418.60,39.42 418.57,40.36 418.57,43.73C418.57,47.10 418.40,53.42 418.37,58.27C418.33,63.11 418.43,69.82 418.37,72.80C418.31,75.78 419.20,75.57 417.99,76.12C416.78,76.68 412.32,76.68 411.11,76.12C409.90,75.57 410.79,75.78 410.73,72.80C410.67,69.82 410.77,63.11 410.73,58.27C410.70,53.42 410.53,47.10 410.53,43.73C410.53,40.36 410.50,39.42 410.73,38.03C410.97,36.64 411.30,36.00 411.94,35.37C412.57,34.74 413.68,34.23 414.55,34.23Z" fill="#000" fill-opacity="0.05" stroke="#000" stroke-width="0.45" stroke-opacity="0.7"/>
<path d="M414.50,44.00C415.37,44.00 416.47,44.53 417.10,45.20C417.73,45.87 418.07,46.53 418.30,48.00C418.53,49.47 418.50,51.46 418.50,54.00C418.50,56.54 418.43,60.17 418.30,63.25C418.17,66.33 417.88,70.38 417.73,72.50C417.58,74.62 418.43,75.42 417.41,76.00C416.38,76.58 412.62,76.58 411.59,76.00C410.57,75.42 411.42,74.62 411.27,72.50C411.12,70.38 410.83,66.33 410.70,63.25C410.57,60.17 410.50,56.54 410.50,54.00C410.50,51.46 410.47,49.47 410.70,48.00C410.93,46.53 411.27,45.87 411.90,45.20C412.53,44.53 413.63,44.00 414.50,44.00Z" fill="#000" fill-opacity="0.22" stroke="#000" stroke-width="0.4" stroke-opacity="0.85"/><path d="M414.50,44.41C415.26,44.41 416.22,44.93 416.78,45.58C417.33,46.23 417.62,46.88 417.82,48.31C418.03,49.74 418.00,51.68 418.00,54.16C418.00,56.64 417.94,60.17 417.82,63.18C417.71,66.19 417.46,70.13 417.33,72.20C417.20,74.27 417.94,75.04 417.04,75.61C416.15,76.18 412.85,76.18 411.96,75.61C411.06,75.04 411.80,74.27 411.67,72.20C411.54,70.13 411.29,66.19 411.18,63.18C411.06,60.17 411.00,56.64 411.00,54.16C411.00,51.68 410.97,49.74 411.18,48.31C411.38,46.88 411.67,46.23 412.22,45.58C412.78,44.93 413.74,44.41 414.50,44.41Z" fill="#000" fill-opacity="0.22" stroke="#000" stroke-width="0.4" stroke-opacity="0.85"/><path d="M414.50,44.82C415.15,44.82 415.98,45.33 416.45,45.96C416.93,46.59 417.18,47.23 417.35,48.62C417.53,50.01 417.50,51.91 417.50,54.32C417.50,56.73 417.45,60.18 417.35,63.11C417.25,66.04 417.03,69.88 416.92,71.89C416.81,73.91 417.45,74.67 416.68,75.22C415.91,75.77 413.09,75.77 412.32,75.22C411.55,74.67 412.19,73.91 412.08,71.89C411.97,69.88 411.75,66.04 411.65,63.11C411.55,60.18 411.50,56.73 411.50,54.32C411.50,51.91 411.47,50.01 411.65,48.62C411.82,47.23 412.07,46.59 412.55,45.96C413.02,45.33 413.85,44.82 414.50,44.82Z" fill="#000" fill-opacity="0.2" stroke="#000" stroke-width="0.4" stroke-opacity="0.85"/><path d="M414.50,45.23C415.04,45.23 415.73,45.72 416.12,46.34C416.52,46.96 416.73,47.57 416.88,48.93C417.02,50.29 417.00,52.13 417.00,54.48C417.00,56.83 416.96,60.18 416.88,63.04C416.79,65.89 416.61,69.63 416.52,71.59C416.43,73.56 416.96,74.29 416.32,74.83C415.68,75.37 413.32,75.37 412.68,74.83C412.04,74.29 412.57,73.56 412.48,71.59C412.39,69.63 412.21,65.89 412.12,63.04C412.04,60.18 412.00,56.83 412.00,54.48C412.00,52.13 411.98,50.29 412.12,48.93C412.27,47.57 412.48,46.96 412.88,46.34C413.27,45.72 413.96,45.23 414.50,45.23Z" fill="#000" fill-opacity="0.18" stroke="#000" stroke-width="0.4" stroke-opacity="0.85"/><path d="M414.50,45.64C414.93,45.64 415.48,46.12 415.80,46.72C416.12,47.32 416.28,47.92 416.40,49.24C416.52,50.56 416.50,52.35 416.50,54.64C416.50,56.93 416.46,60.19 416.40,62.97C416.34,65.74 416.19,69.38 416.12,71.29C416.04,73.20 416.46,73.91 415.95,74.44C415.44,74.97 413.56,74.97 413.05,74.44C412.54,73.91 412.96,73.20 412.88,71.29C412.81,69.38 412.66,65.74 412.60,62.97C412.54,60.19 412.50,56.93 412.50,54.64C412.50,52.35 412.48,50.56 412.60,49.24C412.72,47.92 412.88,47.32 413.20,46.72C413.52,46.12 414.07,45.64 414.50,45.64Z" fill="#000" fill-opacity="0.15" stroke="#000" stroke-width="0.4" stroke-opacity="0.85"/><path d="M414.50,46.05C414.82,46.05 415.24,46.52 415.48,47.10C415.71,47.68 415.84,48.27 415.93,49.55C416.01,50.83 416.00,52.58 416.00,54.80C416.00,57.02 415.97,60.20 415.93,62.89C415.88,65.59 415.77,69.13 415.71,70.99C415.66,72.85 415.97,73.54 415.59,74.05C415.21,74.56 413.79,74.56 413.41,74.05C413.03,73.54 413.34,72.85 413.29,70.99C413.23,69.13 413.12,65.59 413.07,62.89C413.03,60.20 413.00,57.02 413.00,54.80C413.00,52.58 412.99,50.83 413.07,49.55C413.16,48.27 413.29,47.68 413.52,47.10C413.76,46.52 414.18,46.05 414.50,46.05Z" fill="#000" fill-opacity="0.12" stroke="#000" stroke-width="0.4" stroke-opacity="0.85"/><path d="M414.50,46.46C414.72,46.46 414.99,46.91 415.15,47.48C415.31,48.05 415.39,48.61 415.45,49.86C415.51,51.11 415.50,52.80 415.50,54.96C415.50,57.12 415.48,60.20 415.45,62.82C415.42,65.44 415.34,68.88 415.31,70.69C415.27,72.49 415.48,73.16 415.23,73.66C414.97,74.16 414.03,74.16 413.77,73.66C413.52,73.16 413.73,72.49 413.69,70.69C413.66,68.88 413.58,65.44 413.55,62.82C413.52,60.20 413.50,57.12 413.50,54.96C413.50,52.80 413.49,51.11 413.55,49.86C413.61,48.61 413.69,48.05 413.85,47.48C414.01,46.91 414.28,46.46 414.50,46.46Z" fill="#000" fill-opacity="0.1" stroke="#000" stroke-width="0.4" stroke-opacity="0.85"/>
<line x1="414.6" y1="50" x2="414.6" y2="72.8" stroke="#fff" stroke-width="0.9" stroke-opacity="0.4"/>
<path d="M409.00,77.15 Q413.40,72.50 417.80,77.15 Z" fill="#000" fill-opacity="0.55"/>
<path d="M409.00,77.15 Q413.40,72.50 417.80,77.15" fill="none" stroke="#000" stroke-width="1.4"/>
<path d="M413.80,105.30C414.88,105.30 416.26,105.83 417.05,106.50C417.84,107.17 418.26,107.83 418.55,109.30C418.84,110.77 418.80,112.24 418.80,115.30C418.80,118.36 418.48,123.53 418.55,127.65C418.62,131.77 419.18,137.36 419.20,140.00C419.22,142.64 420.37,142.92 418.66,143.50C416.95,144.08 410.65,144.08 408.94,143.50C407.23,142.92 408.38,142.64 408.40,140.00C408.42,137.36 408.98,131.77 409.05,127.65C409.12,123.53 408.80,118.36 408.80,115.30C408.80,112.24 408.76,110.77 409.05,109.30C409.34,107.83 409.76,107.17 410.55,106.50C411.34,105.83 412.72,105.30 413.80,105.30Z" fill="#000" fill-opacity="0.0" stroke="#000" stroke-width="0.45" stroke-opacity="0.6"/><path d="M413.80,106.94C414.67,106.94 415.77,107.44 416.40,108.08C417.03,108.71 417.37,109.34 417.60,110.73C417.83,112.13 417.80,113.53 417.80,116.44C417.80,119.34 417.55,124.26 417.60,128.17C417.65,132.08 418.11,137.39 418.12,139.90C418.13,142.41 419.06,142.67 417.69,143.22C416.32,143.78 411.28,143.78 409.91,143.22C408.54,142.67 409.47,142.41 409.48,139.90C409.49,137.39 409.95,132.08 410.00,128.17C410.05,124.26 409.80,119.34 409.80,116.44C409.80,113.53 409.77,112.13 410.00,110.73C410.23,109.34 410.57,108.71 411.20,108.08C411.83,107.44 412.93,106.94 413.80,106.94Z" fill="#000" fill-opacity="0.01" stroke="#000" stroke-width="0.45" stroke-opacity="0.6"/><path d="M413.80,108.57C414.45,108.57 415.27,109.05 415.75,109.65C416.23,110.25 416.48,110.85 416.65,112.17C416.83,113.49 416.80,114.82 416.80,117.57C416.80,120.32 416.61,124.98 416.65,128.69C416.69,132.39 417.03,137.42 417.04,139.80C417.05,142.18 417.74,142.42 416.72,142.95C415.69,143.47 411.91,143.47 410.88,142.95C409.86,142.42 410.55,142.18 410.56,139.80C410.57,137.42 410.91,132.39 410.95,128.69C410.99,124.98 410.80,120.32 410.80,117.57C410.80,114.82 410.77,113.49 410.95,112.17C411.12,110.85 411.38,110.25 411.85,109.65C412.33,109.05 413.15,108.57 413.80,108.57Z" fill="#000" fill-opacity="0.02" stroke="#000" stroke-width="0.45" stroke-opacity="0.6"/>
<path d="M413.80,116.50C414.99,116.50 416.50,117.03 417.38,117.70C418.25,118.37 418.70,119.03 419.03,120.50C419.35,121.97 419.30,124.38 419.30,126.50C419.30,128.62 418.96,131.00 419.03,133.25C419.09,135.50 419.69,138.29 419.70,140.00C419.71,141.71 420.98,142.92 419.11,143.50C417.24,144.08 410.36,144.08 408.49,143.50C406.62,142.92 407.89,141.71 407.90,140.00C407.91,138.29 408.51,135.50 408.57,133.25C408.64,131.00 408.30,128.62 408.30,126.50C408.30,124.38 408.25,121.97 408.57,120.50C408.90,119.03 409.35,118.37 410.23,117.70C411.10,117.03 412.61,116.50 413.80,116.50Z" fill="#000" fill-opacity="0.01" stroke="#000" stroke-width="0.45" stroke-opacity="0.7"/><path d="M413.80,117.67C414.73,117.67 415.91,118.18 416.59,118.81C417.27,119.45 417.63,120.08 417.88,121.47C418.13,122.87 418.09,125.16 418.09,127.17C418.09,129.19 417.82,131.45 417.88,133.59C417.93,135.72 418.39,138.38 418.40,140.00C418.41,141.62 419.40,142.77 417.94,143.32C416.48,143.88 411.12,143.88 409.66,143.32C408.20,142.77 409.19,141.62 409.20,140.00C409.21,138.38 409.67,135.72 409.72,133.59C409.78,131.45 409.51,129.19 409.51,127.17C409.51,125.16 409.47,122.87 409.72,121.47C409.97,120.08 410.33,119.45 411.01,118.81C411.69,118.18 412.87,117.67 413.80,117.67Z" fill="#000" fill-opacity="0.03" stroke="#000" stroke-width="0.45" stroke-opacity="0.7"/>
<path d="M413.70,119.00C414.50,119.00 415.52,119.53 416.10,120.20C416.69,120.87 417.00,121.53 417.21,123.00C417.43,124.47 417.40,127.11 417.40,129.00C417.40,130.89 417.26,132.57 417.21,134.35C417.16,136.13 417.18,138.22 417.10,139.70C417.02,141.17 417.84,142.62 416.76,143.20C415.68,143.78 411.72,143.78 410.64,143.20C409.56,142.62 410.38,141.17 410.30,139.70C410.22,138.22 410.24,136.13 410.19,134.35C410.13,132.57 410.00,130.89 410.00,129.00C410.00,127.11 409.97,124.47 410.19,123.00C410.40,121.53 410.71,120.87 411.30,120.20C411.88,119.53 412.90,119.00 413.70,119.00Z" fill="#000" fill-opacity="0.22" stroke="#000" stroke-width="0.4" stroke-opacity="0.85"/><path d="M413.70,119.31C414.40,119.31 415.29,119.83 415.80,120.48C416.32,121.13 416.59,121.78 416.78,123.21C416.96,124.64 416.94,127.22 416.94,129.06C416.94,130.91 416.82,132.54 416.78,134.28C416.73,136.02 416.74,138.06 416.67,139.49C416.61,140.93 417.32,142.34 416.38,142.91C415.44,143.48 411.96,143.48 411.02,142.91C410.08,142.34 410.79,140.93 410.73,139.49C410.66,138.06 410.67,136.02 410.62,134.28C410.58,132.54 410.46,130.91 410.46,129.06C410.46,127.22 410.44,124.64 410.62,123.21C410.81,121.78 411.08,121.13 411.60,120.48C412.11,119.83 413.00,119.31 413.70,119.31Z" fill="#000" fill-opacity="0.22" stroke="#000" stroke-width="0.4" stroke-opacity="0.85"/><path d="M413.70,119.62C414.30,119.62 415.06,120.13 415.50,120.77C415.94,121.40 416.17,122.03 416.34,123.42C416.50,124.82 416.47,127.33 416.47,129.12C416.47,130.92 416.37,132.51 416.34,134.21C416.30,135.90 416.31,137.89 416.25,139.29C416.19,140.69 416.80,142.06 416.00,142.61C415.19,143.17 412.21,143.17 411.40,142.61C410.60,142.06 411.21,140.69 411.15,139.29C411.09,137.89 411.10,135.90 411.06,134.21C411.03,132.51 410.93,130.92 410.93,129.12C410.93,127.33 410.90,124.82 411.06,123.42C411.23,122.03 411.46,121.40 411.90,120.77C412.34,120.13 413.10,119.62 413.70,119.62Z" fill="#000" fill-opacity="0.2" stroke="#000" stroke-width="0.4" stroke-opacity="0.85"/><path d="M413.70,119.94C414.20,119.94 414.84,120.43 415.20,121.05C415.57,121.66 415.76,122.28 415.90,123.64C416.03,124.99 416.01,127.44 416.01,129.19C416.01,130.94 415.93,132.49 415.90,134.14C415.87,135.79 415.87,137.72 415.82,139.08C415.78,140.45 416.29,141.78 415.61,142.32C414.94,142.86 412.46,142.86 411.79,142.32C411.11,141.78 411.62,140.45 411.57,139.08C411.53,137.72 411.53,135.79 411.50,134.14C411.47,132.49 411.39,130.94 411.39,129.19C411.39,127.44 411.37,124.99 411.50,123.64C411.64,122.28 411.83,121.66 412.20,121.05C412.56,120.43 413.20,119.94 413.70,119.94Z" fill="#000" fill-opacity="0.18" stroke="#000" stroke-width="0.4" stroke-opacity="0.85"/><path d="M413.70,120.25C414.10,120.25 414.61,120.73 414.90,121.33C415.20,121.93 415.35,122.53 415.46,123.85C415.57,125.17 415.55,127.55 415.55,129.25C415.55,130.95 415.48,132.46 415.46,134.06C415.43,135.67 415.44,137.55 415.40,138.88C415.36,140.21 415.77,141.50 415.23,142.03C414.69,142.56 412.71,142.56 412.17,142.03C411.63,141.50 412.04,140.21 412.00,138.88C411.96,137.55 411.97,135.67 411.94,134.06C411.92,132.46 411.85,130.95 411.85,129.25C411.85,127.55 411.83,125.17 411.94,123.85C412.05,122.53 412.20,121.93 412.50,121.33C412.79,120.73 413.30,120.25 413.70,120.25Z" fill="#000" fill-opacity="0.15" stroke="#000" stroke-width="0.4" stroke-opacity="0.85"/><path d="M413.70,120.56C414.00,120.56 414.38,121.03 414.60,121.61C414.82,122.20 414.94,122.78 415.02,124.06C415.10,125.35 415.09,127.66 415.09,129.31C415.09,130.97 415.04,132.43 415.02,133.99C415.00,135.55 415.00,137.38 414.97,138.67C414.95,139.97 415.25,141.23 414.85,141.74C414.44,142.25 412.96,142.25 412.55,141.74C412.15,141.23 412.45,139.97 412.43,138.67C412.40,137.38 412.40,135.55 412.38,133.99C412.36,132.43 412.31,130.97 412.31,129.31C412.31,127.66 412.30,125.35 412.38,124.06C412.46,122.78 412.58,122.20 412.80,121.61C413.02,121.03 413.40,120.56 413.70,120.56Z" fill="#000" fill-opacity="0.12" stroke="#000" stroke-width="0.4" stroke-opacity="0.85"/><path d="M413.70,120.88C413.90,120.88 414.15,121.33 414.30,121.90C414.45,122.46 414.52,123.03 414.58,124.28C414.63,125.52 414.62,127.77 414.62,129.38C414.62,130.98 414.59,132.41 414.58,133.92C414.57,135.44 414.57,137.22 414.55,138.47C414.53,139.72 414.73,140.95 414.46,141.44C414.20,141.94 413.20,141.94 412.94,141.44C412.67,140.95 412.87,139.72 412.85,138.47C412.83,137.22 412.83,135.44 412.82,133.92C412.81,132.41 412.77,130.98 412.77,129.38C412.77,127.77 412.77,125.52 412.82,124.28C412.88,123.03 412.95,122.46 413.10,121.90C413.25,121.33 413.50,120.88 413.70,120.88Z" fill="#000" fill-opacity="0.1" stroke="#000" stroke-width="0.4" stroke-opacity="0.85"/>
<line x1="413.8" y1="125" x2="413.8" y2="140" stroke="#fff" stroke-width="0.9" stroke-opacity="0.4"/>
<path d="M407.30,144.35 Q413.30,139.70 419.30,144.35 Z" fill="#000" fill-opacity="0.55"/>
<path d="M407.30,144.35 Q413.30,139.70 419.30,144.35" fill="none" stroke="#000" stroke-width="1.4"/>
<path d="M296.60,55.00C297.68,52.67 301.67,54.00 304.20,54.00C306.73,54.00 310.72,52.67 311.80,55.00C312.88,57.33 310.97,64.83 310.70,68.00C310.43,71.17 310.18,72.58 310.20,74.00C310.22,75.42 312.90,76.08 310.80,76.50C308.70,76.92 299.70,76.92 297.60,76.50C295.50,76.08 298.18,75.42 298.20,74.00C298.22,72.58 297.97,71.17 297.70,68.00C297.43,64.83 295.52,57.33 296.60,55.00Z" fill="#000" fill-opacity="0.035" stroke="#000" stroke-width="0.4" stroke-opacity="0.6"/>
<path d="M298.12,56.50C298.99,54.42 302.17,55.50 304.20,55.50C306.23,55.50 309.41,54.42 310.28,56.50C311.15,58.58 309.61,65.08 309.40,68.00C309.19,70.92 308.99,72.58 309.00,74.00C309.01,75.42 311.16,76.08 309.48,76.50C307.80,76.92 300.60,76.92 298.92,76.50C297.24,76.08 299.39,75.42 299.40,74.00C299.41,72.58 299.21,70.92 299.00,68.00C298.79,65.08 297.25,58.58 298.12,56.50Z" fill="#000" fill-opacity="0.035" stroke="#000" stroke-width="0.4" stroke-opacity="0.6"/>
<path d="M299.64,58.00C300.29,56.17 302.68,57.00 304.20,57.00C305.72,57.00 308.11,56.17 308.76,58.00C309.41,59.83 308.26,65.33 308.10,68.00C307.94,70.67 307.79,72.58 307.80,74.00C307.81,75.42 309.42,76.08 308.16,76.50C306.90,76.92 301.50,76.92 300.24,76.50C298.98,76.08 300.59,75.42 300.60,74.00C300.61,72.58 300.46,70.67 300.30,68.00C300.14,65.33 298.99,59.83 299.64,58.00Z" fill="#000" fill-opacity="0.035" stroke="#000" stroke-width="0.4" stroke-opacity="0.6"/>
<path d="M301.16,59.50C301.59,57.92 303.19,58.50 304.20,58.50C305.21,58.50 306.81,57.92 307.24,59.50C307.67,61.08 306.91,65.58 306.80,68.00C306.69,70.42 306.59,72.58 306.60,74.00C306.61,75.42 307.68,76.08 306.84,76.50C306.00,76.92 302.40,76.92 301.56,76.50C300.72,76.08 301.79,75.42 301.80,74.00C301.81,72.58 301.71,70.42 301.60,68.00C301.49,65.58 300.73,61.08 301.16,59.50Z" fill="#000" fill-opacity="0.035" stroke="#000" stroke-width="0.4" stroke-opacity="0.6"/>
<path d="M305.80,43.50C308.09,43.50 311.10,43.91 312.66,44.85C314.22,45.79 314.75,47.48 315.16,49.12C315.57,50.77 315.68,52.76 315.12,54.75C314.56,56.74 312.92,59.17 311.80,61.05C310.68,62.92 310.10,65.17 308.40,66.00C306.70,66.83 303.30,66.83 301.60,66.00C299.90,65.17 299.21,62.92 298.20,61.05C297.19,59.17 295.89,56.74 295.52,54.75C295.15,52.76 295.39,50.77 295.96,49.12C296.53,47.48 297.30,45.79 298.94,44.85C300.58,43.91 303.51,43.50 305.80,43.50Z" fill="#000" fill-opacity="0.06" stroke="#000" stroke-width="0.45" stroke-opacity="0.8"/><path d="M305.61,44.64C307.62,44.64 310.27,45.00 311.64,45.83C313.02,46.65 313.49,48.14 313.85,49.59C314.21,51.04 314.30,52.79 313.81,54.54C313.32,56.29 311.87,58.43 310.89,60.08C309.90,61.73 309.39,63.71 307.90,64.44C306.40,65.17 303.41,65.17 301.91,64.44C300.42,63.71 299.81,61.73 298.92,60.08C298.03,58.43 296.89,56.29 296.56,54.54C296.23,52.79 296.44,51.04 296.95,49.59C297.45,48.14 298.13,46.65 299.57,45.83C301.01,45.00 303.60,44.64 305.61,44.64Z" fill="#000" fill-opacity="0.08" stroke="#000" stroke-width="0.45" stroke-opacity="0.8"/><path d="M305.46,45.49C307.27,45.49 309.65,45.82 310.88,46.56C312.12,47.30 312.54,48.64 312.86,49.94C313.19,51.24 313.27,52.81 312.83,54.38C312.38,55.95 311.09,57.88 310.20,59.36C309.32,60.84 308.86,62.62 307.52,63.27C306.17,63.92 303.49,63.92 302.15,63.27C300.80,62.62 300.26,60.84 299.46,59.36C298.66,57.88 297.64,55.95 297.34,54.38C297.05,52.81 297.24,51.24 297.69,49.94C298.14,48.64 298.75,47.30 300.04,46.56C301.34,45.82 303.66,45.49 305.46,45.49Z" fill="#000" fill-opacity="0.12" stroke="#000" stroke-width="0.45" stroke-opacity="0.8"/><path d="M305.37,46.06C307.04,46.06 309.24,46.37 310.38,47.05C311.52,47.73 311.90,48.97 312.20,50.17C312.50,51.38 312.58,52.83 312.17,54.28C311.76,55.73 310.57,57.51 309.75,58.88C308.93,60.25 308.51,61.89 307.27,62.49C306.02,63.09 303.54,63.09 302.30,62.49C301.06,61.89 300.56,60.25 299.82,58.88C299.08,57.51 298.14,55.73 297.86,54.28C297.59,52.83 297.77,51.38 298.18,50.17C298.60,48.97 299.16,47.73 300.36,47.05C301.56,46.37 303.70,46.06 305.37,46.06Z" fill="#000" fill-opacity="0.15" stroke="#000" stroke-width="0.45" stroke-opacity="0.8"/><path d="M305.29,46.54C306.84,46.54 308.89,46.82 309.95,47.46C311.01,48.10 311.38,49.24 311.66,50.37C311.93,51.49 312.01,52.84 311.63,54.19C311.24,55.54 310.13,57.20 309.37,58.47C308.61,59.75 308.21,61.28 307.06,61.84C305.90,62.40 303.59,62.40 302.43,61.84C301.28,61.28 300.81,59.75 300.12,58.47C299.43,57.20 298.55,55.54 298.30,54.19C298.04,52.84 298.21,51.49 298.59,50.37C298.98,49.24 299.51,48.10 300.62,47.46C301.74,46.82 303.73,46.54 305.29,46.54Z" fill="#000" fill-opacity="0.18" stroke="#000" stroke-width="0.45" stroke-opacity="0.8"/><path d="M305.21,47.02C306.65,47.02 308.55,47.27 309.53,47.87C310.51,48.46 310.85,49.52 311.11,50.56C311.37,51.60 311.43,52.85 311.08,54.10C310.73,55.35 309.69,56.89 308.99,58.07C308.28,59.25 307.92,60.67 306.85,61.19C305.77,61.71 303.63,61.71 302.56,61.19C301.49,60.67 301.06,59.25 300.42,58.07C299.78,56.89 298.97,55.35 298.73,54.10C298.50,52.85 298.65,51.60 299.01,50.56C299.37,49.52 299.85,48.46 300.89,47.87C301.92,47.27 303.77,47.02 305.21,47.02Z" fill="#000" fill-opacity="0.18" stroke="#000" stroke-width="0.45" stroke-opacity="0.8"/><path d="M305.13,47.49C306.45,47.49 308.20,47.73 309.11,48.27C310.01,48.82 310.32,49.80 310.56,50.75C310.80,51.71 310.86,52.86 310.53,54.02C310.21,55.17 309.26,56.58 308.61,57.67C307.96,58.76 307.62,60.06 306.64,60.54C305.65,61.02 303.68,61.02 302.69,60.54C301.71,60.06 301.31,58.76 300.72,57.67C300.13,56.58 299.38,55.17 299.17,54.02C298.95,52.86 299.09,51.71 299.42,50.75C299.75,49.80 300.20,48.82 301.15,48.27C302.10,47.73 303.80,47.49 305.13,47.49Z" fill="#000" fill-opacity="0.15" stroke="#000" stroke-width="0.45" stroke-opacity="0.8"/><path d="M305.03,48.06C306.22,48.06 307.79,48.27 308.60,48.76C309.41,49.25 309.69,50.13 309.90,50.98C310.11,51.84 310.17,52.88 309.88,53.91C309.59,54.94 308.73,56.21 308.15,57.19C307.57,58.16 307.27,59.33 306.38,59.76C305.50,60.19 303.73,60.19 302.85,59.76C301.96,59.33 301.61,58.16 301.08,57.19C300.55,56.21 299.88,54.94 299.69,53.91C299.49,52.88 299.62,51.84 299.91,50.98C300.21,50.13 300.61,49.25 301.46,48.76C302.32,48.27 303.84,48.06 305.03,48.06Z" fill="#fff" fill-opacity="0.12" stroke="#000" stroke-width="0.45" stroke-opacity="0.8"/><path d="M304.87,49.01C305.83,49.01 307.10,49.18 307.75,49.58C308.41,49.97 308.63,50.68 308.80,51.37C308.98,52.07 309.02,52.90 308.79,53.73C308.55,54.57 307.86,55.59 307.39,56.38C306.92,57.17 306.68,58.11 305.96,58.46C305.25,58.81 303.82,58.81 303.11,58.46C302.39,58.11 302.11,57.17 301.68,56.38C301.25,55.59 300.71,54.57 300.55,53.73C300.40,52.90 300.50,52.07 300.74,51.37C300.98,50.68 301.30,49.97 301.99,49.58C302.68,49.18 303.91,49.01 304.87,49.01Z" fill="#fff" fill-opacity="0.2" stroke="#000" stroke-width="0.45" stroke-opacity="0.8"/><path d="M304.68,50.15C305.37,50.15 306.27,50.27 306.74,50.55C307.21,50.84 307.37,51.34 307.49,51.84C307.61,52.33 307.64,52.93 307.48,53.52C307.31,54.12 306.82,54.85 306.48,55.41C306.14,55.98 305.97,56.65 305.46,56.90C304.95,57.15 303.93,57.15 303.42,56.90C302.91,56.65 302.70,55.98 302.40,55.41C302.10,54.85 301.71,54.12 301.60,53.52C301.48,52.93 301.56,52.33 301.73,51.84C301.90,51.34 302.13,50.84 302.62,50.55C303.11,50.27 303.99,50.15 304.68,50.15Z" fill="#fff" fill-opacity="0.25" stroke="#000" stroke-width="0.45" stroke-opacity="0.8"/>
<path d="M298.00,77.17 Q304.00,73.14 310.00,77.17 Z" fill="#000" fill-opacity="0.55"/>
<path d="M298.00,77.17 Q304.00,73.14 310.00,77.17" fill="none" stroke="#000" stroke-width="1.4"/>
<ellipse cx="304" cy="76.2" rx="7.8" ry="1.1" fill="#000" fill-opacity="0.35"/>
<path d="M295.60,122.00C296.79,119.63 301.20,121.00 304.00,121.00C306.80,121.00 311.21,119.63 312.40,122.00C313.59,124.37 311.49,132.03 311.14,135.20C310.79,138.37 310.34,139.62 310.30,141.00C310.26,142.38 313.13,143.08 310.93,143.50C308.73,143.92 299.27,143.92 297.07,143.50C294.87,143.08 297.74,142.38 297.70,141.00C297.66,139.62 297.21,138.37 296.86,135.20C296.51,132.03 294.41,124.37 295.60,122.00Z" fill="#000" fill-opacity="0.035" stroke="#000" stroke-width="0.4" stroke-opacity="0.6"/>
<path d="M297.70,124.00C298.59,121.97 301.90,123.00 304.00,123.00C306.10,123.00 309.41,121.97 310.30,124.00C311.19,126.03 309.62,132.37 309.36,135.20C309.09,138.03 308.75,139.62 308.73,141.00C308.70,142.38 310.85,143.08 309.20,143.50C307.54,143.92 300.46,143.92 298.80,143.50C297.15,143.08 299.30,142.38 299.27,141.00C299.25,139.62 298.91,138.03 298.64,135.20C298.38,132.37 296.81,126.03 297.70,124.00Z" fill="#000" fill-opacity="0.035" stroke="#000" stroke-width="0.4" stroke-opacity="0.6"/>
<path d="M299.80,126.00C300.39,124.30 302.60,125.00 304.00,125.00C305.40,125.00 307.61,124.30 308.20,126.00C308.79,127.70 307.75,132.70 307.57,135.20C307.39,137.70 307.17,139.62 307.15,141.00C307.13,142.38 308.57,143.08 307.46,143.50C306.36,143.92 301.64,143.92 300.54,143.50C299.43,143.08 300.87,142.38 300.85,141.00C300.83,139.62 300.61,137.70 300.43,135.20C300.25,132.70 299.21,127.70 299.80,126.00Z" fill="#000" fill-opacity="0.035" stroke="#000" stroke-width="0.4" stroke-opacity="0.6"/>
<path d="M304.30,112.00C306.33,112.00 308.98,112.53 310.39,113.74C311.80,114.95 312.33,117.12 312.74,119.25C313.14,121.38 312.89,123.94 312.82,126.50C312.75,129.06 313.08,132.20 312.30,134.62C311.52,137.04 310.22,139.94 308.15,141.00C306.07,142.06 301.93,142.06 299.85,141.00C297.78,139.94 296.44,137.04 295.70,134.62C294.96,132.20 295.42,129.06 295.42,126.50C295.42,123.94 295.22,121.38 295.68,119.25C296.15,117.12 296.77,114.95 298.21,113.74C299.65,112.53 302.27,112.00 304.30,112.00Z" fill="#000" fill-opacity="0.06" stroke="#000" stroke-width="0.45" stroke-opacity="0.8"/><path d="M304.24,113.04C306.03,113.04 308.36,113.53 309.60,114.64C310.84,115.75 311.31,117.75 311.66,119.71C312.02,121.67 311.80,124.02 311.74,126.38C311.67,128.74 311.96,131.63 311.28,133.85C310.60,136.07 309.45,138.74 307.63,139.72C305.80,140.70 302.15,140.70 300.32,139.72C298.50,138.74 297.32,136.07 296.67,133.85C296.02,131.63 296.43,128.74 296.43,126.38C296.42,124.02 296.25,121.67 296.66,119.71C297.07,117.75 297.62,115.75 298.88,114.64C300.14,113.53 302.45,113.04 304.24,113.04Z" fill="#000" fill-opacity="0.08" stroke="#000" stroke-width="0.45" stroke-opacity="0.8"/><path d="M304.19,113.95C305.77,113.95 307.84,114.40 308.94,115.43C310.04,116.46 310.45,118.30 310.77,120.11C311.09,121.92 310.89,124.10 310.84,126.28C310.78,128.45 311.04,131.12 310.43,133.18C309.82,135.23 308.81,137.70 307.19,138.60C305.57,139.50 302.34,139.50 300.72,138.60C299.10,137.70 298.06,135.23 297.48,133.18C296.91,131.12 297.27,128.45 297.26,126.28C297.26,124.10 297.11,121.92 297.47,120.11C297.83,118.30 298.32,116.46 299.44,115.43C300.56,114.40 302.61,113.95 304.19,113.95Z" fill="#000" fill-opacity="0.1" stroke="#000" stroke-width="0.45" stroke-opacity="0.8"/><path d="M304.15,114.86C305.57,114.86 307.43,115.27 308.41,116.22C309.40,117.16 309.77,118.86 310.06,120.52C310.34,122.17 310.16,124.17 310.11,126.17C310.06,128.17 310.29,130.62 309.75,132.50C309.21,134.39 308.30,136.65 306.84,137.48C305.39,138.31 302.49,138.31 301.04,137.48C299.58,136.65 298.65,134.39 298.13,132.50C297.61,130.62 297.94,128.17 297.93,126.17C297.93,124.17 297.79,122.17 298.12,120.52C298.44,118.86 298.88,117.16 299.89,116.22C300.89,115.27 302.73,114.86 304.15,114.86Z" fill="#000" fill-opacity="0.12" stroke="#000" stroke-width="0.45" stroke-opacity="0.8"/><path d="M304.11,115.77C305.37,115.77 307.01,116.15 307.89,117.01C308.76,117.86 309.09,119.41 309.34,120.92C309.59,122.43 309.44,124.25 309.39,126.06C309.35,127.88 309.55,130.11 309.07,131.83C308.59,133.55 307.78,135.61 306.50,136.36C305.21,137.11 302.64,137.11 301.35,136.36C300.06,135.61 299.24,133.55 298.78,131.83C298.32,130.11 298.61,127.88 298.60,126.06C298.60,124.25 298.48,122.43 298.77,120.92C299.06,119.41 299.44,117.86 300.33,117.01C301.22,116.15 302.85,115.77 304.11,115.77Z" fill="#000" fill-opacity="0.14" stroke="#000" stroke-width="0.45" stroke-opacity="0.8"/><path d="M304.07,116.68C305.17,116.68 306.60,117.02 307.36,117.79C308.12,118.57 308.41,119.96 308.63,121.32C308.84,122.68 308.71,124.32 308.67,125.96C308.63,127.60 308.81,129.61 308.39,131.16C307.97,132.70 307.27,134.56 306.15,135.24C305.03,135.92 302.79,135.92 301.67,135.24C300.55,134.56 299.82,132.70 299.43,131.16C299.03,129.61 299.28,127.60 299.27,125.96C299.27,124.32 299.17,122.68 299.42,121.32C299.67,119.96 300.01,118.57 300.78,117.79C301.56,117.02 302.97,116.68 304.07,116.68Z" fill="#000" fill-opacity="0.14" stroke="#000" stroke-width="0.45" stroke-opacity="0.8"/><path d="M304.03,117.59C304.96,117.59 306.18,117.89 306.83,118.58C307.48,119.27 307.72,120.51 307.91,121.72C308.10,122.93 307.98,124.39 307.95,125.86C307.92,127.32 308.07,129.11 307.71,130.48C307.35,131.86 306.76,133.51 305.80,134.12C304.85,134.73 302.94,134.73 301.98,134.12C301.03,133.51 300.41,131.86 300.07,130.48C299.73,129.11 299.95,127.32 299.95,125.86C299.94,124.39 299.85,122.93 300.07,121.72C300.28,120.51 300.57,119.27 301.23,118.58C301.89,117.89 303.10,117.59 304.03,117.59Z" fill="#000" fill-opacity="0.1" stroke="#000" stroke-width="0.45" stroke-opacity="0.8"/><path d="M303.99,118.50C304.76,118.50 305.77,118.77 306.30,119.37C306.84,119.97 307.04,121.06 307.20,122.12C307.35,123.19 307.26,124.47 307.23,125.75C307.20,127.03 307.33,128.60 307.03,129.81C306.73,131.02 306.24,132.47 305.45,133.00C304.66,133.53 303.09,133.53 302.30,133.00C301.51,132.47 301.00,131.02 300.72,129.81C300.44,128.60 300.62,127.03 300.62,125.75C300.61,124.47 300.54,123.19 300.72,122.12C300.89,121.06 301.13,119.97 301.68,119.37C302.22,118.77 303.22,118.50 303.99,118.50Z" fill="#fff" fill-opacity="0.1" stroke="#000" stroke-width="0.45" stroke-opacity="0.8"/><path d="M303.95,119.41C304.56,119.41 305.36,119.64 305.78,120.16C306.20,120.68 306.36,121.61 306.48,122.53C306.60,123.44 306.53,124.54 306.51,125.64C306.48,126.75 306.58,128.10 306.35,129.14C306.12,130.18 305.73,131.42 305.11,131.88C304.48,132.34 303.24,132.34 302.62,131.88C301.99,131.42 301.59,130.18 301.37,129.14C301.15,128.10 301.29,126.75 301.29,125.64C301.29,124.54 301.23,123.44 301.37,122.53C301.50,121.61 301.69,120.68 302.12,120.16C302.55,119.64 303.34,119.41 303.95,119.41Z" fill="#fff" fill-opacity="0.15" stroke="#000" stroke-width="0.45" stroke-opacity="0.8"/>
<path d="M295.70,144.34 Q304.10,139.38 312.50,144.34 Z" fill="#000" fill-opacity="0.55"/>
<path d="M295.70,144.34 Q304.10,139.38 312.50,144.34" fill="none" stroke="#000" stroke-width="1.4"/>
<path d="M462.00,46.00C463.00,42.50 467.47,45.00 470.20,45.00C472.93,45.00 477.40,42.50 478.40,46.00C479.40,49.50 476.73,61.37 476.20,66.00C475.67,70.63 475.28,72.08 475.20,73.80C475.12,75.52 477.45,75.88 475.70,76.30C473.95,76.72 466.45,76.72 464.70,76.30C462.95,75.88 465.28,75.52 465.20,73.80C465.12,72.08 464.73,70.63 464.20,66.00C463.67,61.37 461.00,49.50 462.00,46.00Z" fill="#000" fill-opacity="0.035" stroke="#000" stroke-width="0.4" stroke-opacity="0.6"/>
<path d="M463.64,47.50C464.44,44.25 468.01,46.50 470.20,46.50C472.39,46.50 475.96,44.25 476.76,47.50C477.56,50.75 475.43,61.62 475.00,66.00C474.57,70.38 474.27,72.08 474.20,73.80C474.13,75.52 476.00,75.88 474.60,76.30C473.20,76.72 467.20,76.72 465.80,76.30C464.40,75.88 466.27,75.52 466.20,73.80C466.13,72.08 465.83,70.38 465.40,66.00C464.97,61.62 462.84,50.75 463.64,47.50Z" fill="#000" fill-opacity="0.035" stroke="#000" stroke-width="0.4" stroke-opacity="0.6"/>
<path d="M465.28,49.00C465.88,46.00 468.56,48.00 470.20,48.00C471.84,48.00 474.52,46.00 475.12,49.00C475.72,52.00 474.12,61.87 473.80,66.00C473.48,70.13 473.25,72.08 473.20,73.80C473.15,75.52 474.55,75.88 473.50,76.30C472.45,76.72 467.95,76.72 466.90,76.30C465.85,75.88 467.25,75.52 467.20,73.80C467.15,72.08 466.92,70.13 466.60,66.00C466.28,61.87 464.68,52.00 465.28,49.00Z" fill="#000" fill-opacity="0.035" stroke="#000" stroke-width="0.4" stroke-opacity="0.6"/>
<path d="M466.92,50.50C467.32,47.75 469.11,49.50 470.20,49.50C471.29,49.50 473.08,47.75 473.48,50.50C473.88,53.25 472.81,62.12 472.60,66.00C472.39,69.88 472.23,72.08 472.20,73.80C472.17,75.52 473.10,75.88 472.40,76.30C471.70,76.72 468.70,76.72 468.00,76.30C467.30,75.88 468.23,75.52 468.20,73.80C468.17,72.08 468.01,69.88 467.80,66.00C467.59,62.12 466.52,53.25 466.92,50.50Z" fill="#000" fill-opacity="0.035" stroke="#000" stroke-width="0.4" stroke-opacity="0.6"/>
<path d="M469.60,26.60C471.12,26.60 473.10,27.18 474.15,28.48C475.20,29.79 475.58,32.15 475.88,34.45C476.18,36.75 476.10,39.53 475.92,42.30C475.74,45.07 475.44,48.48 474.80,51.09C474.16,53.71 473.43,56.85 472.05,58.00C470.68,59.15 467.93,59.15 466.55,58.00C465.18,56.85 464.41,53.71 463.80,51.09C463.19,48.48 463.03,45.07 462.92,42.30C462.81,39.53 462.78,36.75 463.14,34.45C463.50,32.15 463.97,29.79 465.05,28.48C466.13,27.18 468.08,26.60 469.60,26.60Z" fill="#000" fill-opacity="0.06" stroke="#000" stroke-width="0.45" stroke-opacity="0.8"/><path d="M469.59,28.09C470.92,28.09 472.67,28.59 473.59,29.75C474.51,30.90 474.85,32.97 475.11,35.00C475.37,37.02 475.31,39.46 475.15,41.90C474.99,44.34 474.73,47.34 474.16,49.64C473.60,51.94 472.95,54.71 471.74,55.72C470.53,56.73 468.11,56.73 466.90,55.72C465.69,54.71 465.02,51.94 464.48,49.64C463.95,47.34 463.81,44.34 463.71,41.90C463.61,39.46 463.59,37.02 463.90,35.00C464.22,32.97 464.64,30.90 465.58,29.75C466.53,28.59 468.25,28.09 469.59,28.09Z" fill="#000" fill-opacity="0.08" stroke="#000" stroke-width="0.45" stroke-opacity="0.8"/><path d="M469.58,29.20C470.78,29.20 472.35,29.66 473.17,30.69C474.00,31.73 474.31,33.59 474.54,35.41C474.77,37.22 474.71,39.42 474.57,41.61C474.43,43.80 474.20,46.49 473.69,48.55C473.18,50.62 472.60,53.10 471.51,54.01C470.43,54.92 468.26,54.92 467.17,54.01C466.08,53.10 465.47,50.62 465.00,48.55C464.52,46.49 464.39,43.80 464.30,41.61C464.21,39.42 464.20,37.22 464.48,35.41C464.76,33.59 465.13,31.73 465.98,30.69C466.84,29.66 468.38,29.20 469.58,29.20Z" fill="#000" fill-opacity="0.12" stroke="#000" stroke-width="0.45" stroke-opacity="0.8"/><path d="M469.57,29.95C470.68,29.95 472.13,30.37 472.89,31.32C473.66,32.28 473.94,34.00 474.16,35.68C474.37,37.36 474.32,39.38 474.19,41.41C474.06,43.43 473.84,45.92 473.37,47.83C472.90,49.74 472.37,52.03 471.36,52.87C470.36,53.71 468.35,53.71 467.35,52.87C466.34,52.03 465.78,49.74 465.34,47.83C464.90,45.92 464.78,43.43 464.70,41.41C464.62,39.38 464.60,37.36 464.86,35.68C465.12,34.00 465.47,32.28 466.25,31.32C467.04,30.37 468.47,29.95 469.57,29.95Z" fill="#000" fill-opacity="0.15" stroke="#000" stroke-width="0.45" stroke-opacity="0.8"/><path d="M469.57,30.57C470.60,30.57 471.95,30.96 472.66,31.85C473.37,32.74 473.64,34.34 473.84,35.91C474.04,37.47 473.99,39.36 473.87,41.24C473.74,43.13 473.54,45.44 473.10,47.22C472.67,49.00 472.17,51.14 471.23,51.92C470.30,52.70 468.43,52.70 467.49,51.92C466.56,51.14 466.04,49.00 465.62,47.22C465.21,45.44 465.10,43.13 465.03,41.24C464.95,39.36 464.93,37.47 465.18,35.91C465.42,34.34 465.74,32.74 466.47,31.85C467.21,30.96 468.54,30.57 469.57,30.57Z" fill="#000" fill-opacity="0.18" stroke="#000" stroke-width="0.45" stroke-opacity="0.8"/><path d="M469.56,31.19C470.52,31.19 471.77,31.55 472.43,32.37C473.09,33.20 473.33,34.68 473.52,36.13C473.71,37.58 473.66,39.33 473.54,41.08C473.43,42.83 473.25,44.97 472.84,46.62C472.43,48.27 471.97,50.24 471.11,50.97C470.24,51.70 468.51,51.70 467.64,50.97C466.78,50.24 466.29,48.27 465.91,46.62C465.53,44.97 465.42,42.83 465.35,41.08C465.29,39.33 465.27,37.58 465.49,36.13C465.72,34.68 466.02,33.20 466.70,32.37C467.37,31.55 468.61,31.19 469.56,31.19Z" fill="#000" fill-opacity="0.18" stroke="#000" stroke-width="0.45" stroke-opacity="0.8"/><path d="M469.56,31.81C470.44,31.81 471.59,32.14 472.20,32.90C472.80,33.66 473.03,35.03 473.20,36.36C473.37,37.70 473.33,39.31 473.22,40.91C473.12,42.52 472.95,44.50 472.57,46.01C472.20,47.53 471.78,49.35 470.98,50.02C470.18,50.69 468.59,50.69 467.79,50.02C466.99,49.35 466.54,47.53 466.19,46.01C465.84,44.50 465.75,42.52 465.68,40.91C465.62,39.31 465.61,37.70 465.81,36.36C466.02,35.03 466.29,33.66 466.92,32.90C467.54,32.14 468.68,31.81 469.56,31.81Z" fill="#000" fill-opacity="0.15" stroke="#000" stroke-width="0.45" stroke-opacity="0.8"/><path d="M469.55,32.55C470.34,32.55 471.37,32.85 471.92,33.53C472.46,34.21 472.66,35.44 472.82,36.63C472.97,37.83 472.93,39.27 472.84,40.72C472.74,42.16 472.59,43.93 472.26,45.29C471.92,46.65 471.54,48.28 470.83,48.88C470.11,49.48 468.68,49.48 467.97,48.88C467.25,48.28 466.85,46.65 466.54,45.29C466.22,43.93 466.14,42.16 466.08,40.72C466.02,39.27 466.01,37.83 466.19,36.63C466.38,35.44 466.63,34.21 467.19,33.53C467.75,32.85 468.76,32.55 469.55,32.55Z" fill="#fff" fill-opacity="0.12" stroke="#000" stroke-width="0.45" stroke-opacity="0.8"/><path d="M469.54,33.79C470.18,33.79 471.01,34.03 471.45,34.58C471.89,35.13 472.06,36.12 472.18,37.09C472.30,38.06 472.27,39.22 472.20,40.39C472.12,41.55 472.00,42.98 471.73,44.08C471.46,45.18 471.15,46.50 470.57,46.98C469.99,47.46 468.84,47.46 468.26,46.98C467.68,46.50 467.36,45.18 467.11,44.08C466.85,42.98 466.78,41.55 466.74,40.39C466.69,39.22 466.68,38.06 466.83,37.09C466.98,36.12 467.18,35.13 467.63,34.58C468.08,34.03 468.91,33.79 469.54,33.79Z" fill="#fff" fill-opacity="0.2" stroke="#000" stroke-width="0.45" stroke-opacity="0.8"/><path d="M469.53,35.28C469.99,35.28 470.58,35.45 470.89,35.85C471.21,36.24 471.33,36.94 471.41,37.63C471.50,38.33 471.48,39.16 471.43,39.99C471.37,40.82 471.28,41.84 471.09,42.63C470.90,43.41 470.68,44.35 470.26,44.70C469.85,45.05 469.03,45.05 468.62,44.70C468.20,44.35 467.97,43.41 467.79,42.63C467.61,41.84 467.56,40.82 467.53,39.99C467.49,39.16 467.49,38.33 467.59,37.63C467.70,36.94 467.84,36.24 468.17,35.85C468.49,35.45 469.08,35.28 469.53,35.28Z" fill="#fff" fill-opacity="0.25" stroke="#000" stroke-width="0.45" stroke-opacity="0.8"/>
<ellipse cx="470" cy="37.5" rx="0.9" ry="1.3" fill="#ccc"/>
<path d="M464.80,76.77 Q469.80,72.74 474.80,76.77 Z" fill="#000" fill-opacity="0.55"/>
<path d="M464.80,76.77 Q469.80,72.74 474.80,76.77" fill="none" stroke="#000" stroke-width="1.4"/>
<ellipse cx="470" cy="75.8" rx="7.5" ry="1.1" fill="#000" fill-opacity="0.35"/>
<path d="M463.80,118.00C464.91,115.23 469.00,117.00 471.60,117.00C474.20,117.00 478.30,115.23 479.40,118.00C480.51,120.77 478.56,129.77 478.23,133.60C477.91,137.43 477.48,139.35 477.45,141.00C477.42,142.65 480.08,143.08 478.04,143.50C475.99,143.92 467.21,143.92 465.17,143.50C463.12,143.08 465.78,142.65 465.75,141.00C465.72,139.35 465.30,137.43 464.97,133.60C464.65,129.77 462.69,120.77 463.80,118.00Z" fill="#000" fill-opacity="0.035" stroke="#000" stroke-width="0.4" stroke-opacity="0.6"/>
<path d="M465.75,120.00C466.58,117.57 469.65,119.00 471.60,119.00C473.55,119.00 476.62,117.57 477.45,120.00C478.28,122.43 476.82,130.10 476.57,133.60C476.33,137.10 476.01,139.35 475.99,141.00C475.96,142.65 477.96,143.08 476.43,143.50C474.89,143.92 468.31,143.92 466.77,143.50C465.24,143.08 467.24,142.65 467.21,141.00C467.19,139.35 466.87,137.10 466.63,133.60C466.38,130.10 464.92,122.43 465.75,120.00Z" fill="#000" fill-opacity="0.035" stroke="#000" stroke-width="0.4" stroke-opacity="0.6"/>
<path d="M467.70,122.00C468.25,119.90 470.30,121.00 471.60,121.00C472.90,121.00 474.95,119.90 475.50,122.00C476.05,124.10 475.08,130.43 474.92,133.60C474.75,136.77 474.54,139.35 474.53,141.00C474.51,142.65 475.84,143.08 474.82,143.50C473.79,143.92 469.41,143.92 468.38,143.50C467.36,143.08 468.69,142.65 468.68,141.00C468.66,139.35 468.45,136.77 468.29,133.60C468.12,130.43 467.15,124.10 467.70,122.00Z" fill="#000" fill-opacity="0.035" stroke="#000" stroke-width="0.4" stroke-opacity="0.6"/>
<path d="M473.40,98.20C475.27,98.20 477.76,98.98 479.00,100.77C480.24,102.55 480.56,105.76 480.82,108.90C481.08,112.04 480.81,115.82 480.56,119.60C480.31,123.38 480.12,128.02 479.30,131.58C478.48,135.15 477.47,139.43 475.65,141.00C473.82,142.57 470.18,142.57 468.35,141.00C466.53,139.43 465.33,135.15 464.70,131.58C464.07,128.02 464.49,123.38 464.56,119.60C464.63,115.82 464.60,112.04 465.14,108.90C465.68,105.76 466.42,102.55 467.80,100.77C469.18,98.98 471.53,98.20 473.40,98.20Z" fill="#000" fill-opacity="0.06" stroke="#000" stroke-width="0.45" stroke-opacity="0.8"/><path d="M473.29,100.46C474.93,100.46 477.13,101.15 478.22,102.72C479.31,104.29 479.59,107.11 479.82,109.87C480.05,112.63 479.82,115.96 479.59,119.29C479.37,122.61 479.20,126.70 478.48,129.83C477.76,132.97 476.88,136.74 475.27,138.12C473.67,139.50 470.45,139.50 468.85,138.12C467.24,136.74 466.19,132.97 465.64,129.83C465.08,126.70 465.45,122.61 465.51,119.29C465.58,115.96 465.55,112.63 466.02,109.87C466.50,107.11 467.15,104.29 468.36,102.72C469.58,101.15 471.65,100.46 473.29,100.46Z" fill="#000" fill-opacity="0.08" stroke="#000" stroke-width="0.45" stroke-opacity="0.8"/><path d="M473.21,102.15C474.69,102.15 476.66,102.77 477.63,104.18C478.61,105.59 478.87,108.12 479.07,110.60C479.28,113.08 479.07,116.07 478.87,119.05C478.67,122.04 478.52,125.70 477.87,128.52C477.23,131.34 476.43,134.72 474.99,135.96C473.55,137.20 470.66,137.20 469.22,135.96C467.78,134.72 466.84,131.34 466.34,128.52C465.84,125.70 466.17,122.04 466.23,119.05C466.29,116.07 466.26,113.08 466.69,110.60C467.11,108.12 467.70,105.59 468.79,104.18C469.87,102.77 471.74,102.15 473.21,102.15Z" fill="#000" fill-opacity="0.12" stroke="#000" stroke-width="0.45" stroke-opacity="0.8"/><path d="M473.16,103.28C474.52,103.28 476.34,103.85 477.25,105.15C478.15,106.45 478.38,108.80 478.57,111.09C478.76,113.38 478.57,116.14 478.38,118.90C478.20,121.66 478.06,125.04 477.46,127.65C476.87,130.25 476.13,133.37 474.80,134.52C473.47,135.67 470.80,135.67 469.47,134.52C468.14,133.37 467.27,130.25 466.81,127.65C466.34,125.04 466.65,121.66 466.70,118.90C466.76,116.14 466.73,113.38 467.13,111.09C467.52,108.80 468.06,106.45 469.07,105.15C470.07,103.85 471.79,103.28 473.16,103.28Z" fill="#000" fill-opacity="0.15" stroke="#000" stroke-width="0.45" stroke-opacity="0.8"/><path d="M473.11,104.22C474.38,104.22 476.08,104.75 476.92,105.96C477.76,107.17 477.98,109.36 478.16,111.49C478.33,113.63 478.15,116.20 477.98,118.77C477.81,121.34 477.68,124.49 477.12,126.92C476.57,129.34 475.88,132.25 474.64,133.32C473.40,134.39 470.92,134.39 469.68,133.32C468.44,132.25 467.63,129.34 467.20,126.92C466.77,124.49 467.05,121.34 467.10,118.77C467.15,116.20 467.13,113.63 467.50,111.49C467.86,109.36 468.37,107.17 469.30,105.96C470.24,104.75 471.84,104.22 473.11,104.22Z" fill="#000" fill-opacity="0.18" stroke="#000" stroke-width="0.45" stroke-opacity="0.8"/><path d="M473.07,105.16C474.24,105.16 475.82,105.65 476.60,106.77C477.37,107.90 477.58,109.92 477.74,111.90C477.91,113.87 477.74,116.26 477.58,118.64C477.42,121.02 477.30,123.94 476.78,126.19C476.27,128.43 475.63,131.13 474.48,132.12C473.33,133.11 471.04,133.11 469.89,132.12C468.74,131.13 467.98,128.43 467.59,126.19C467.19,123.94 467.45,121.02 467.50,118.64C467.54,116.26 467.52,113.87 467.86,111.90C468.20,109.92 468.67,107.90 469.54,106.77C470.41,105.65 471.89,105.16 473.07,105.16Z" fill="#000" fill-opacity="0.18" stroke="#000" stroke-width="0.45" stroke-opacity="0.8"/><path d="M473.02,106.10C474.10,106.10 475.55,106.55 476.27,107.59C476.99,108.62 477.17,110.48 477.33,112.30C477.48,114.12 477.32,116.32 477.17,118.51C477.03,120.70 476.92,123.39 476.44,125.46C475.97,127.53 475.39,130.01 474.33,130.92C473.27,131.83 471.15,131.83 470.09,130.92C469.03,130.01 468.34,127.53 467.98,125.46C467.61,123.39 467.85,120.70 467.89,118.51C467.94,116.32 467.92,114.12 468.23,112.30C468.54,110.48 468.98,108.62 469.77,107.59C470.57,106.55 471.94,106.10 473.02,106.10Z" fill="#000" fill-opacity="0.15" stroke="#000" stroke-width="0.45" stroke-opacity="0.8"/><path d="M472.97,107.22C473.94,107.22 475.24,107.63 475.88,108.56C476.52,109.49 476.69,111.16 476.83,112.79C476.96,114.42 476.82,116.39 476.69,118.35C476.56,120.32 476.46,122.73 476.04,124.58C475.61,126.44 475.09,128.66 474.14,129.48C473.19,130.30 471.29,130.30 470.34,129.48C469.39,128.66 468.77,126.44 468.44,124.58C468.12,122.73 468.33,120.32 468.37,118.35C468.41,116.39 468.39,114.42 468.67,112.79C468.95,111.16 469.34,109.49 470.06,108.56C470.77,107.63 472.00,107.22 472.97,107.22Z" fill="#fff" fill-opacity="0.12" stroke="#000" stroke-width="0.45" stroke-opacity="0.8"/><path d="M472.88,109.10C473.66,109.10 474.71,109.43 475.23,110.18C475.75,110.93 475.89,112.28 475.99,113.60C476.10,114.92 475.99,116.50 475.89,118.09C475.78,119.68 475.70,121.63 475.36,123.13C475.01,124.62 474.59,126.42 473.82,127.08C473.06,127.74 471.52,127.74 470.76,127.08C469.99,126.42 469.49,124.62 469.22,123.13C468.96,121.63 469.13,119.68 469.17,118.09C469.20,116.50 469.18,114.92 469.41,113.60C469.64,112.28 469.95,110.93 470.53,110.18C471.10,109.43 472.09,109.10 472.88,109.10Z" fill="#fff" fill-opacity="0.2" stroke="#000" stroke-width="0.45" stroke-opacity="0.8"/><path d="M472.77,111.36C473.33,111.36 474.08,111.60 474.45,112.13C474.82,112.67 474.92,113.63 475.00,114.57C475.07,115.51 474.99,116.65 474.92,117.78C474.84,118.91 474.79,120.31 474.54,121.38C474.29,122.45 473.99,123.73 473.44,124.20C472.90,124.67 471.80,124.67 471.25,124.20C470.71,123.73 470.35,122.45 470.16,121.38C469.97,120.31 470.10,118.91 470.12,117.78C470.14,116.65 470.13,115.51 470.29,114.57C470.45,113.63 470.68,112.67 471.09,112.13C471.50,111.60 472.21,111.36 472.77,111.36Z" fill="#fff" fill-opacity="0.25" stroke="#000" stroke-width="0.45" stroke-opacity="0.8"/>
<ellipse cx="470.8" cy="112" rx="0.9" ry="1.4" fill="#bbb"/>
<path d="M463.60,144.35 Q471.80,139.70 480.00,144.35 Z" fill="#000" fill-opacity="0.55"/>
<path d="M463.60,144.35 Q471.80,139.70 480.00,144.35" fill="none" stroke="#000" stroke-width="1.4"/>
<rect x="234.4" y="13.3" width="23.400000000000006" height="46.400000000000006" fill="none" stroke="#333" stroke-width="0.9" />
<rect x="292.8" y="13.9" width="29.80000000000001" height="45.5" fill="none" stroke="#333" stroke-width="0.9" />
<rect x="234.5" y="80.5" width="23.0" height="47.0" fill="none" stroke="#333" stroke-width="0.9" />
<rect x="293" y="81.25" width="30.5" height="45.0" fill="none" stroke="#333" stroke-width="0.9" />
<rect x="398.8" y="12.5" width="25.69999999999999" height="36.25" fill="none" stroke="#333" stroke-width="0.9" />
<rect x="457.5" y="13" width="31.25" height="35.75" fill="none" stroke="#333" stroke-width="0.9" />
<rect x="398.8" y="80.3" width="25.599999999999966" height="35.7" fill="none" stroke="#333" stroke-width="0.9" />
<rect x="457" y="80.3" width="31.80000000000001" height="35.7" fill="none" stroke="#333" stroke-width="0.9" />
<text x="198.7" y="22.7" font-size="9" font-weight="bold" text-anchor="start" fill="#000" letter-spacing="-0.35" style="stroke-width:0.2px">53.6</text>
<text x="265.7" y="22.3" font-size="9" font-weight="bold" text-anchor="start" fill="#000" letter-spacing="-0.35" style="stroke-width:0.2px">62.5</text>
<text x="198.5" y="89.2" font-size="9" font-weight="bold" text-anchor="start" fill="#000" letter-spacing="-0.35" style="stroke-width:0.2px">18</text>
<text x="265.3" y="89.2" font-size="9" font-weight="bold" text-anchor="start" fill="#000" letter-spacing="-0.35" style="stroke-width:0.2px">38.7</text>
<text x="365.6" y="21.6" font-size="9" font-weight="bold" text-anchor="start" fill="#000" letter-spacing="-0.35" style="stroke-width:0.2px">16.7</text>
<text x="432.3" y="22.1" font-size="9" font-weight="bold" text-anchor="start" fill="#000" letter-spacing="-0.35" style="stroke-width:0.2px">65.7</text>
<text x="365.4" y="89.4" font-size="9" font-weight="bold" text-anchor="start" fill="#000" letter-spacing="-0.35" style="stroke-width:0.2px">7.38</text>
<text x="432.5" y="89.4" font-size="9" font-weight="bold" text-anchor="start" fill="#000" letter-spacing="-0.35" style="stroke-width:0.2px">34.9</text>
<line x1="183.6" y1="20.2" x2="183.6" y2="95.5" stroke="#000" stroke-width="1.5" />
<polyline points="179.2,27.7 183.6,19.7 188.0,27.7" fill="none" stroke="#000" stroke-width="1.5"/>
<line x1="351.4" y1="17.6" x2="351.4" y2="108.3" stroke="#000" stroke-width="1.5" />
<polyline points="347.0,25.1 351.4,17.1 355.79999999999995,25.1" fill="none" stroke="#000" stroke-width="1.5"/>
<text transform="translate(189,121.5) rotate(-90)" font-size="13" font-weight="bold" text-anchor="middle">CXCR3</text>
<text transform="translate(358,128) rotate(-90)" font-size="13" font-weight="bold" text-anchor="middle">α4β7</text>
<text x="230.2" y="163.6" font-size="13.8" font-weight="bold" text-anchor="middle" fill="#000" >CD4</text>
<text x="294.75" y="163.8" font-size="13.5" font-weight="bold" text-anchor="middle" fill="#000" >CD8</text>
<text x="394.8" y="164" font-size="13.5" font-weight="bold" text-anchor="middle" fill="#000" >CD4</text>
<text x="459.2" y="164" font-size="13.5" font-weight="bold" text-anchor="middle" fill="#000" >CD8</text>
<text x="498" y="48.0" font-size="13.5" font-weight="bold" text-anchor="start" fill="#000" >WT</text>
<text x="498.6" y="118.3" font-size="13.5" font-weight="bold" text-anchor="start" fill="#000" >KO</text>
<line x1="202.3" y1="204.0" x2="202.3" y2="305.90000000000003" stroke="#000" stroke-width="1.6" />
<line x1="200.10000000000002" y1="204.5" x2="202.3" y2="204.5" stroke="#000" stroke-width="1.1" />
<text x="199.70000000000002" y="208.2" font-size="10.2" font-weight="bold" text-anchor="end" fill="#000" >60</text>
<line x1="200.10000000000002" y1="238.4" x2="202.3" y2="238.4" stroke="#000" stroke-width="1.1" />
<text x="199.70000000000002" y="242.1" font-size="10.2" font-weight="bold" text-anchor="end" fill="#000" >40</text>
<line x1="200.10000000000002" y1="271.6" x2="202.3" y2="271.6" stroke="#000" stroke-width="1.1" />
<text x="199.70000000000002" y="275.3" font-size="10.2" font-weight="bold" text-anchor="end" fill="#000" >20</text>
<line x1="200.10000000000002" y1="305.3" x2="202.3" y2="305.3" stroke="#000" stroke-width="1.1" />
<text x="199.70000000000002" y="309.0" font-size="10.2" font-weight="bold" text-anchor="end" fill="#000" >0</text>
<line x1="202.3" y1="305.3" x2="328" y2="305.3" stroke="#000" stroke-width="1.6" />
<line x1="223.45" y1="228.5" x2="223.45" y2="234.1" stroke="#000" stroke-width="1.3" />
<line x1="217.8" y1="228.5" x2="229.1" y2="228.5" stroke="#000" stroke-width="1.3" />
<rect x="213.5" y="234.6" width="19.75" height="70.70000000000002" fill="#d4d4d4" stroke="#222" stroke-width="1" />
<line x1="244.35" y1="265.4" x2="244.35" y2="267.8" stroke="#000" stroke-width="1.3" />
<line x1="239" y1="265.4" x2="249.7" y2="265.4" stroke="#000" stroke-width="1.3" />
<rect x="233.75" y="267.8" width="21.0" height="37.5" fill="#000" stroke="none" stroke-width="1" />
<line x1="285.875" y1="206.75" x2="285.875" y2="212" stroke="#000" stroke-width="1.3" />
<line x1="280.5" y1="206.75" x2="291.25" y2="206.75" stroke="#000" stroke-width="1.3" />
<rect x="275.5" y="212.5" width="20.25" height="92.80000000000001" fill="#d4d4d4" stroke="#222" stroke-width="1" />
<line x1="305.875" y1="238.75" x2="305.875" y2="241.25" stroke="#000" stroke-width="1.3" />
<line x1="300.5" y1="238.75" x2="311.25" y2="238.75" stroke="#000" stroke-width="1.3" />
<rect x="296.25" y="241.25" width="20.75" height="64.05000000000001" fill="#000" stroke="none" stroke-width="1" />
<line x1="233.75" y1="305.3" x2="233.75" y2="307.3" stroke="#000" stroke-width="1" />
<line x1="296.25" y1="305.3" x2="296.25" y2="307.3" stroke="#000" stroke-width="1" />
<path d="M226.42,218.40L226.98,216.42A0.88,0.88 0 0 0 225.22,216.42L225.78,218.40ZM226.39,218.84L228.45,218.76A0.88,0.88 0 0 0 227.91,217.09L226.19,218.23ZM225.96,218.95L226.67,220.88A0.88,0.88 0 0 0 228.10,219.85L226.48,218.57ZM225.72,218.57L224.10,219.85A0.88,0.88 0 0 0 225.53,220.88L226.24,218.95ZM226.01,218.23L224.29,217.09A0.88,0.88 0 0 0 223.75,218.76L225.81,218.84Z" fill="#000"/>
<circle cx="226.10" cy="218.60" r="0.72" fill="#000"/>
<path d="M233.47,218.40L234.03,216.42A0.88,0.88 0 0 0 232.27,216.42L232.83,218.40ZM233.44,218.84L235.50,218.76A0.88,0.88 0 0 0 234.96,217.09L233.24,218.23ZM233.01,218.95L233.72,220.88A0.88,0.88 0 0 0 235.15,219.85L233.53,218.57ZM232.77,218.57L231.15,219.85A0.88,0.88 0 0 0 232.58,220.88L233.29,218.95ZM233.06,218.23L231.34,217.09A0.88,0.88 0 0 0 230.80,218.76L232.86,218.84Z" fill="#000"/>
<circle cx="233.15" cy="218.60" r="0.72" fill="#000"/>
<path d="M240.92,218.40L241.48,216.42A0.88,0.88 0 0 0 239.72,216.42L240.28,218.40ZM240.89,218.84L242.95,218.76A0.88,0.88 0 0 0 242.41,217.09L240.69,218.23ZM240.46,218.95L241.17,220.88A0.88,0.88 0 0 0 242.60,219.85L240.98,218.57ZM240.22,218.57L238.60,219.85A0.88,0.88 0 0 0 240.03,220.88L240.74,218.95ZM240.51,218.23L238.79,217.09A0.88,0.88 0 0 0 238.25,218.76L240.31,218.84Z" fill="#000"/>
<circle cx="240.60" cy="218.60" r="0.72" fill="#000"/>
<line x1="220.8" y1="223.9" x2="244.6" y2="223.9" stroke="#000" stroke-width="1.6" />
<path d="M294.32,195.70L294.88,193.62A0.88,0.88 0 0 0 293.12,193.62L293.68,195.70ZM294.29,196.14L296.44,196.03A0.88,0.88 0 0 0 295.90,194.36L294.09,195.53ZM293.86,196.25L294.63,198.27A0.88,0.88 0 0 0 296.05,197.23L294.38,195.87ZM293.62,195.87L291.95,197.23A0.88,0.88 0 0 0 293.37,198.27L294.14,196.25ZM293.91,195.53L292.10,194.36A0.88,0.88 0 0 0 291.56,196.03L293.71,196.14Z" fill="#000"/>
<circle cx="294.00" cy="195.90" r="0.72" fill="#000"/>
<path d="M301.67,195.70L302.23,193.62A0.88,0.88 0 0 0 300.47,193.62L301.03,195.70ZM301.64,196.14L303.79,196.03A0.88,0.88 0 0 0 303.25,194.36L301.44,195.53ZM301.21,196.25L301.98,198.27A0.88,0.88 0 0 0 303.40,197.23L301.73,195.87ZM300.97,195.87L299.30,197.23A0.88,0.88 0 0 0 300.72,198.27L301.49,196.25ZM301.26,195.53L299.45,194.36A0.88,0.88 0 0 0 298.91,196.03L301.06,196.14Z" fill="#000"/>
<circle cx="301.35" cy="195.90" r="0.72" fill="#000"/>
<line x1="286" y1="201.3" x2="309.8" y2="201.3" stroke="#000" stroke-width="1.6" />
<text x="233.2" y="318.7" font-size="11.5" font-weight="bold" text-anchor="middle" fill="#000" >CD4</text>
<text x="295.9" y="318.7" font-size="11.5" font-weight="bold" text-anchor="middle" fill="#000" >CD8</text>
<text transform="translate(182,255.6) rotate(-90)" font-size="13" font-weight="bold" text-anchor="middle">%CXCR3<tspan font-size="8.5" dy="-5">+</tspan></text>
<line x1="367" y1="204.5" x2="367" y2="305.6" stroke="#000" stroke-width="1.6" />
<line x1="364.8" y1="205" x2="367" y2="205" stroke="#000" stroke-width="1.1" />
<text x="364.4" y="208.7" font-size="10.2" font-weight="bold" text-anchor="end" fill="#000" >60</text>
<line x1="364.8" y1="237.5" x2="367" y2="237.5" stroke="#000" stroke-width="1.1" />
<text x="364.4" y="241.2" font-size="10.2" font-weight="bold" text-anchor="end" fill="#000" >40</text>
<line x1="364.8" y1="271.25" x2="367" y2="271.25" stroke="#000" stroke-width="1.1" />
<text x="364.4" y="274.95" font-size="10.2" font-weight="bold" text-anchor="end" fill="#000" >20</text>
<line x1="364.8" y1="305" x2="367" y2="305" stroke="#000" stroke-width="1.1" />
<text x="364.4" y="308.7" font-size="10.2" font-weight="bold" text-anchor="end" fill="#000" >0</text>
<line x1="367" y1="305" x2="491.5" y2="305" stroke="#000" stroke-width="1.6" />
<line x1="386.875" y1="280" x2="386.875" y2="282" stroke="#000" stroke-width="1.3" />
<line x1="380" y1="280" x2="393.75" y2="280" stroke="#000" stroke-width="1.3" />
<rect x="378.0" y="282.5" width="20.25" height="22.5" fill="#d4d4d4" stroke="#222" stroke-width="1" />
<line x1="408.5" y1="290.5" x2="408.5" y2="292" stroke="#000" stroke-width="1.3" />
<line x1="402.5" y1="290.5" x2="414.5" y2="290.5" stroke="#000" stroke-width="1.3" />
<rect x="398.75" y="292" width="20.75" height="13" fill="#000" stroke="none" stroke-width="1" />
<line x1="450.0" y1="204.25" x2="450.0" y2="212.5" stroke="#000" stroke-width="1.3" />
<line x1="444.5" y1="204.25" x2="455.5" y2="204.25" stroke="#000" stroke-width="1.3" />
<rect x="440.0" y="213.0" width="20.0" height="92.0" fill="#d4d4d4" stroke="#222" stroke-width="1" />
<line x1="470.5" y1="244.5" x2="470.5" y2="248" stroke="#000" stroke-width="1.3" />
<line x1="465" y1="244.5" x2="476" y2="244.5" stroke="#000" stroke-width="1.3" />
<rect x="460.5" y="248" width="20.75" height="57" fill="#000" stroke="none" stroke-width="1" />
<line x1="398.75" y1="305" x2="398.75" y2="307" stroke="#000" stroke-width="1" />
<line x1="460.5" y1="305" x2="460.5" y2="307" stroke="#000" stroke-width="1" />
<path d="M400.47,270.90L401.03,268.82A0.88,0.88 0 0 0 399.27,268.82L399.83,270.90ZM400.44,271.34L402.59,271.23A0.88,0.88 0 0 0 402.05,269.56L400.24,270.73ZM400.01,271.45L400.78,273.47A0.88,0.88 0 0 0 402.20,272.43L400.53,271.07ZM399.77,271.07L398.10,272.43A0.88,0.88 0 0 0 399.52,273.47L400.29,271.45ZM400.06,270.73L398.25,269.56A0.88,0.88 0 0 0 397.71,271.23L399.86,271.34Z" fill="#000"/>
<circle cx="400.15" cy="271.10" r="0.72" fill="#000"/>
<line x1="387.2" y1="276.1" x2="411.3" y2="276.1" stroke="#000" stroke-width="1.6" />
<path d="M459.72,194.60L460.28,192.52A0.88,0.88 0 0 0 458.52,192.52L459.08,194.60ZM459.69,195.04L461.84,194.93A0.88,0.88 0 0 0 461.30,193.26L459.49,194.43ZM459.26,195.15L460.03,197.17A0.88,0.88 0 0 0 461.45,196.13L459.78,194.77ZM459.02,194.77L457.35,196.13A0.88,0.88 0 0 0 458.77,197.17L459.54,195.15ZM459.31,194.43L457.50,193.26A0.88,0.88 0 0 0 456.96,194.93L459.11,195.04Z" fill="#000"/>
<circle cx="459.40" cy="194.80" r="0.72" fill="#000"/>
<path d="M467.22,194.60L467.78,192.52A0.88,0.88 0 0 0 466.02,192.52L466.58,194.60ZM467.19,195.04L469.34,194.93A0.88,0.88 0 0 0 468.80,193.26L466.99,194.43ZM466.76,195.15L467.53,197.17A0.88,0.88 0 0 0 468.95,196.13L467.28,194.77ZM466.52,194.77L464.85,196.13A0.88,0.88 0 0 0 466.27,197.17L467.04,195.15ZM466.81,194.43L465.00,193.26A0.88,0.88 0 0 0 464.46,194.93L466.61,195.04Z" fill="#000"/>
<circle cx="466.90" cy="194.80" r="0.72" fill="#000"/>
<line x1="451.2" y1="200.3" x2="474.8" y2="200.3" stroke="#000" stroke-width="1.6" />
<text x="398.1" y="318.7" font-size="11.5" font-weight="bold" text-anchor="middle" fill="#000" >CD4</text>
<text x="460" y="318.7" font-size="11.5" font-weight="bold" text-anchor="middle" fill="#000" >CD8</text>
<text transform="translate(343.6,254.9) rotate(-90)" font-size="12.5" font-weight="bold" text-anchor="middle">%<tspan font-family="Liberation Serif" font-weight="normal" font-size="14">α</tspan>4<tspan font-family="Liberation Serif" font-weight="normal" font-size="13">β</tspan>7<tspan font-size="8.5" dy="-5">+</tspan></text>
<rect x="374" y="204.25" width="13" height="6.5" fill="#d4d4d4" stroke="#222" stroke-width="1" />
<rect x="373.5" y="213" width="14" height="7.5" fill="#000" stroke="none" stroke-width="1" />
<text x="395" y="211.9" font-size="10.5" font-weight="bold" text-anchor="start" fill="#000" >WT</text>
<text x="395" y="220.6" font-size="10.5" font-weight="bold" text-anchor="start" fill="#000" >KO</text>
</svg>
</body></html>
